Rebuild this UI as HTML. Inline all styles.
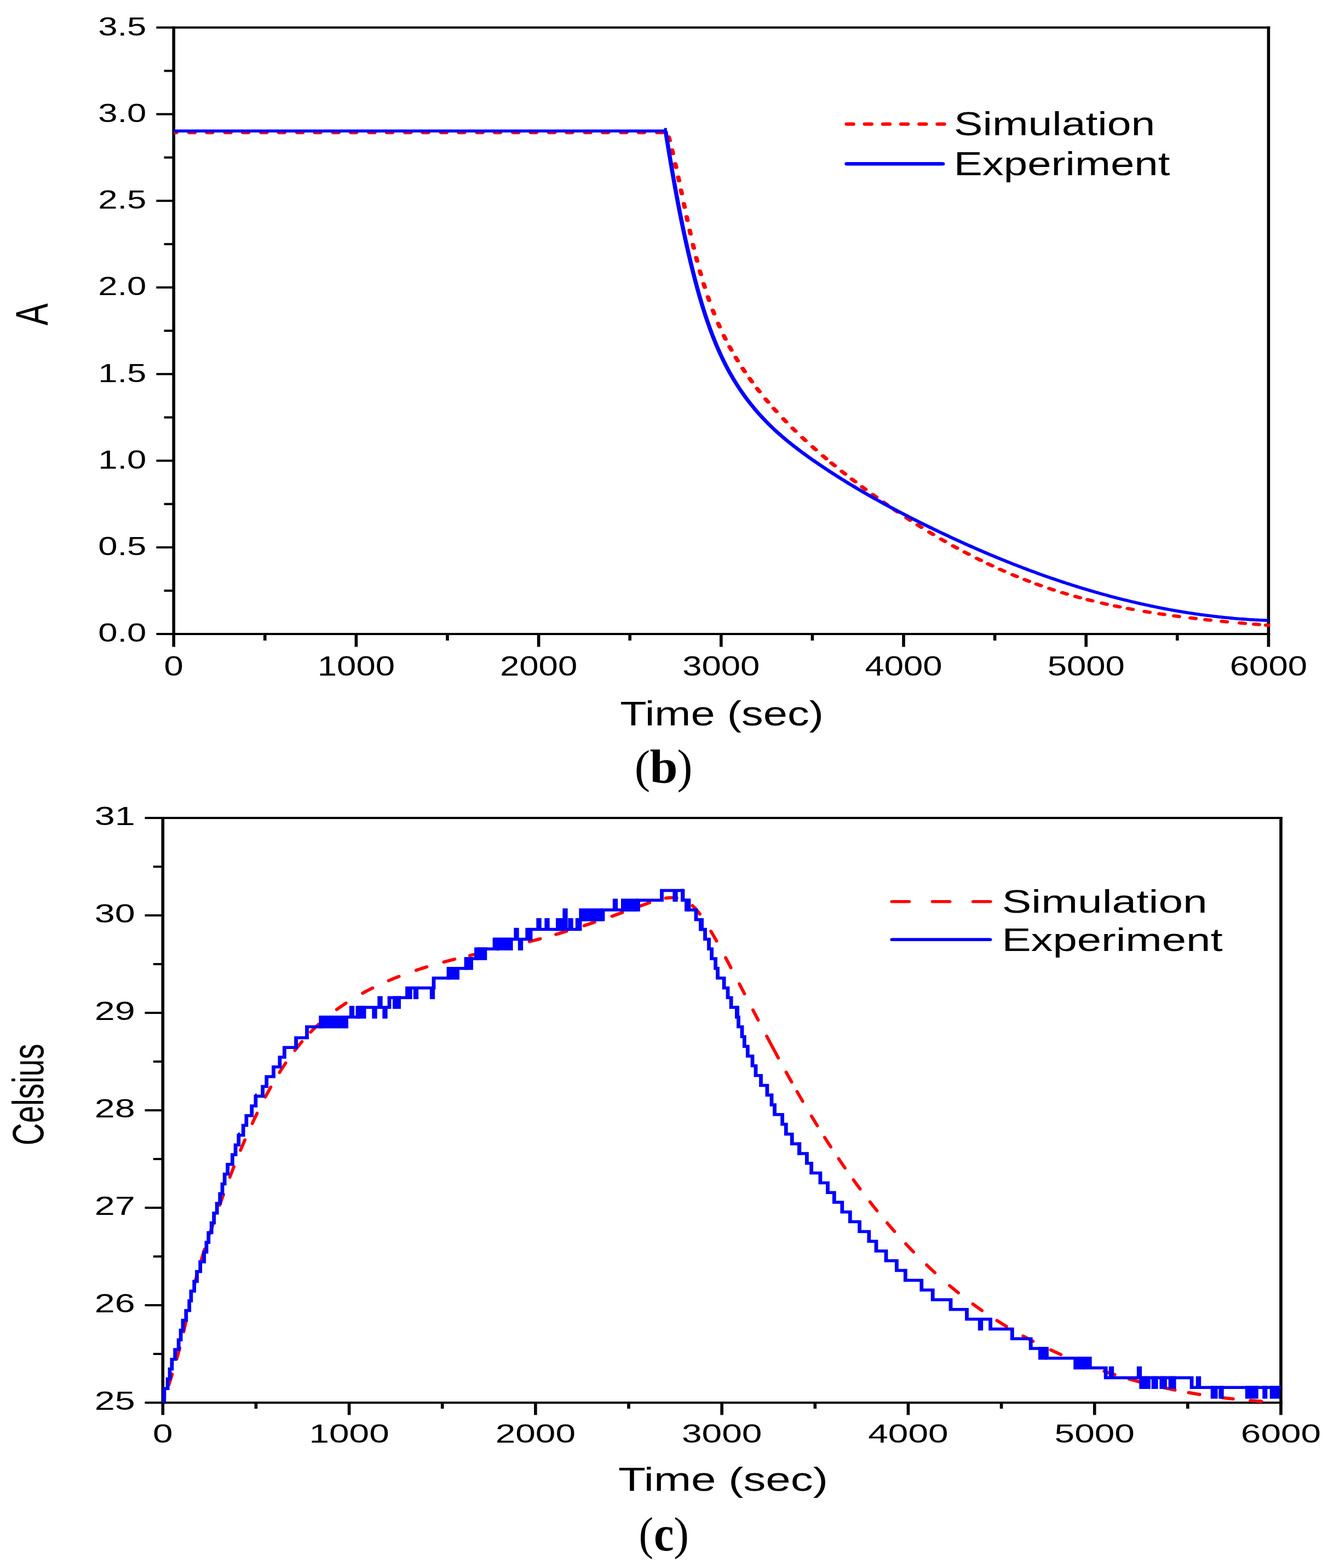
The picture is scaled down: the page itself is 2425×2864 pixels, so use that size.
<!DOCTYPE html>
<html><head><meta charset="utf-8"><title>Simulation vs Experiment</title>
<style>html,body{margin:0;padding:0;background:#fff;}svg{display:block;}</style>
</head><body>
<svg width="2425" height="2864" viewBox="0 0 2425 2864">
<rect x="0" y="0" width="2425" height="2864" fill="#fff"/>
<defs><clipPath id="cp1"><rect x="317.2" y="48.3" width="2002" height="1111.7"/></clipPath><clipPath id="cp2"><rect x="294.5" y="1492" width="2047.3" height="1072"/></clipPath></defs>
<rect x="314.4" y="48.3" width="2004.8" height="4" fill="#000"/>
<rect x="314.4" y="1156" width="2004.8" height="4" fill="#000"/>
<rect x="314.4" y="48.3" width="5.6" height="1111.7" fill="#000"/>
<rect x="2313.6" y="48.3" width="5.6" height="1111.7" fill="#000"/>
<rect x="285.4" y="1156" width="31.8" height="4" fill="#000"/>
<rect x="285.4" y="997.76" width="31.8" height="4" fill="#000"/>
<rect x="285.4" y="839.51" width="31.8" height="4" fill="#000"/>
<rect x="285.4" y="681.27" width="31.8" height="4" fill="#000"/>
<rect x="285.4" y="523.03" width="31.8" height="4" fill="#000"/>
<rect x="285.4" y="364.79" width="31.8" height="4" fill="#000"/>
<rect x="285.4" y="206.54" width="31.8" height="4" fill="#000"/>
<rect x="285.4" y="48.3" width="31.8" height="4" fill="#000"/>
<rect x="299.6" y="1076.88" width="17.6" height="4" fill="#000"/>
<rect x="299.6" y="918.64" width="17.6" height="4" fill="#000"/>
<rect x="299.6" y="760.39" width="17.6" height="4" fill="#000"/>
<rect x="299.6" y="602.15" width="17.6" height="4" fill="#000"/>
<rect x="299.6" y="443.91" width="17.6" height="4" fill="#000"/>
<rect x="299.6" y="285.66" width="17.6" height="4" fill="#000"/>
<rect x="299.6" y="127.42" width="17.6" height="4" fill="#000"/>
<rect x="314.4" y="1158" width="5.6" height="23.5" fill="#000"/>
<rect x="647.6" y="1158" width="5.6" height="23.5" fill="#000"/>
<rect x="980.8" y="1158" width="5.6" height="23.5" fill="#000"/>
<rect x="1314" y="1158" width="5.6" height="23.5" fill="#000"/>
<rect x="1647.2" y="1158" width="5.6" height="23.5" fill="#000"/>
<rect x="1980.4" y="1158" width="5.6" height="23.5" fill="#000"/>
<rect x="2313.6" y="1158" width="5.6" height="23.5" fill="#000"/>
<rect x="481" y="1158" width="5.6" height="12" fill="#000"/>
<rect x="814.2" y="1158" width="5.6" height="12" fill="#000"/>
<rect x="1147.4" y="1158" width="5.6" height="12" fill="#000"/>
<rect x="1480.6" y="1158" width="5.6" height="12" fill="#000"/>
<rect x="1813.8" y="1158" width="5.6" height="12" fill="#000"/>
<rect x="2147" y="1158" width="5.6" height="12" fill="#000"/>
<g clip-path="url(#cp1)"><g transform="scale(1.36 1)">
<path d="M233.24,242.2 L233.94,242.2 L234.64,242.2 L235.34,242.2 L236.04,242.2 L236.54,242.2 M254.44,242.2 L254.94,242.2 L255.64,242.2 L256.34,242.2 L257.04,242.2 L257.74,242.2 L258.44,242.2 L259.14,242.2 L259.84,242.2 L260.54,242.2 L261.04,242.2 M278.25,242.2 L278.75,242.2 L279.45,242.2 L280.15,242.2 L280.85,242.2 L281.55,242.2 L282.25,242.2 L282.95,242.2 L283.65,242.2 L284.35,242.2 L284.85,242.2 M302.76,242.2 L303.26,242.2 L303.96,242.2 L304.66,242.2 L305.36,242.2 L306.06,242.2 L306.76,242.2 L307.46,242.2 L308.16,242.2 L308.86,242.2 L309.36,242.2 M326.56,242.2 L327.06,242.2 L327.76,242.2 L328.46,242.2 L329.16,242.2 L329.86,242.2 L330.56,242.2 L331.26,242.2 L331.96,242.2 L332.66,242.2 L333.16,242.2 M351.07,242.2 L351.57,242.2 L352.27,242.2 L352.97,242.2 L353.67,242.2 L354.37,242.2 L355.07,242.2 L355.77,242.2 L356.47,242.2 L357.17,242.2 L357.67,242.2 M374.88,242.2 L375.38,242.2 L376.08,242.2 L376.78,242.2 L377.48,242.2 L378.18,242.2 L378.88,242.2 L379.58,242.2 L380.28,242.2 L380.98,242.2 L381.48,242.2 M399.38,242.2 L399.88,242.2 L400.58,242.2 L401.28,242.2 L401.98,242.2 L402.68,242.2 L403.38,242.2 L404.08,242.2 L404.79,242.2 L405.49,242.2 L405.98,242.2 M423.19,242.2 L423.69,242.2 L424.39,242.2 L425.09,242.2 L425.79,242.2 L426.49,242.2 L427.19,242.2 L427.89,242.2 L428.59,242.2 L429.29,242.2 L429.79,242.2 M447.7,242.2 L448.2,242.2 L448.9,242.2 L449.6,242.2 L450.3,242.2 L451,242.2 L451.7,242.2 L452.4,242.2 L453.1,242.2 L453.8,242.2 L454.3,242.2 M471.51,242.2 L472,242.2 L472.7,242.2 L473.41,242.2 L474.11,242.2 L474.81,242.2 L475.51,242.2 L476.21,242.2 L476.91,242.2 L477.61,242.2 L478.11,242.2 M496.01,242.2 L496.51,242.2 L497.21,242.2 L497.91,242.2 L498.61,242.2 L499.31,242.2 L500.01,242.2 L500.71,242.2 L501.41,242.2 L502.11,242.2 L502.61,242.2 M519.82,242.2 L520.32,242.2 L521.02,242.2 L521.72,242.2 L522.42,242.2 L523.12,242.2 L523.82,242.2 L524.52,242.2 L525.22,242.2 L525.92,242.2 L526.42,242.2 M544.33,242.2 L544.83,242.2 L545.53,242.2 L546.23,242.2 L546.93,242.2 L547.63,242.2 L548.33,242.2 L549.03,242.2 L549.73,242.2 L550.43,242.2 L550.93,242.2 M568.13,242.2 L568.63,242.2 L569.33,242.2 L570.03,242.2 L570.73,242.2 L571.43,242.2 L572.13,242.2 L572.83,242.2 L573.53,242.2 L574.23,242.2 L574.73,242.2 M592.64,242.2 L593.14,242.2 L593.84,242.2 L594.54,242.2 L595.24,242.2 L595.94,242.2 L596.64,242.2 L597.34,242.2 L598.04,242.2 L598.74,242.2 L599.24,242.2 M616.45,242.2 L616.95,242.2 L617.65,242.2 L618.35,242.2 L619.05,242.2 L619.75,242.2 L620.45,242.2 L621.15,242.2 L621.85,242.2 L622.55,242.2 L623.05,242.2 M640.95,242.2 L641.45,242.2 L642.15,242.2 L642.85,242.2 L643.55,242.2 L644.25,242.2 L644.96,242.2 L645.66,242.2 L646.36,242.2 L647.06,242.2 L647.55,242.2 M664.76,242.2 L665.26,242.2 L665.96,242.2 L666.66,242.2 L667.36,242.2 L668.06,242.2 L668.76,242.2 L669.46,242.2 L670.16,242.2 L670.86,242.2 L671.36,242.2 M689.27,242.2 L689.77,242.2 L690.47,242.2 L691.17,242.2 L691.87,242.2 L692.57,242.2 L693.27,242.2 L693.97,242.2 L694.67,242.2 L695.37,242.2 L695.87,242.2 M713.08,242.2 L713.57,242.2 L714.28,242.2 L714.98,242.2 L715.68,242.2 L716.38,242.2 L717.08,242.2 L717.78,242.2 L718.48,242.2 L719.18,242.2 L719.68,242.2 M737.58,242.2 L738.08,242.2 L738.78,242.2 L739.48,242.2 L740.18,242.2 L740.88,242.2 L741.58,242.2 L742.28,242.2 L742.98,242.2 L743.68,242.2 L744.18,242.2 M761.39,242.2 L761.89,242.2 L762.59,242.2 L763.29,242.2 L763.99,242.2 L764.69,242.2 L765.39,242.2 L766.09,242.2 L766.79,242.2 L767.49,242.2 L767.99,242.2 M785.9,242.2 L786.4,242.2 L787.1,242.2 L787.8,242.2 L788.5,242.2 L789.2,242.2 L789.9,242.2 L790.6,242.2 L791.3,242.2 L792,242.2 L792.5,242.2 M809.7,242.2 L810.2,242.2 L810.9,242.2 L811.6,242.2 L812.3,242.2 L813,242.2 L813.7,242.2 L814.4,242.2 L815.1,242.2 L815.8,242.2 L816.3,242.2 M834.21,242.2 L834.71,242.2 L835.41,242.2 L836.11,242.2 L836.81,242.2 L837.51,242.2 L838.21,242.2 L838.91,242.2 L839.61,242.2 L840.31,242.2 L840.81,242.2 M858.02,242.2 L858.52,242.2 L859.22,242.2 L859.92,242.2 L860.62,242.2 L861.32,242.2 L862.02,242.2 L862.72,242.2 L863.42,242.2 L864.12,242.2 L864.62,242.2 M882.53,242.2 L883.02,242.2 L883.72,242.2 L884.42,242.2 L885.12,242.2 L885.83,242.2 L886.53,242.2 L887.23,242.2 L887.93,242.2 L888.63,242.2 L889.13,242.2 M897.92,250.24 L898,250.65 L898.19,251.6 L898.37,252.54 L898.55,253.48 L898.73,254.43 L898.91,255.37 L899.09,256.32 L899.17,256.73 M902.36,274.03 L902.43,274.41 L902.6,275.37 L902.77,276.32 L902.94,277.28 L903.11,278.24 L903.28,279.2 L903.45,280.16 L903.51,280.53 M906.7,299.15 L906.75,299.49 L906.92,300.46 L907.08,301.43 L907.24,302.4 L907.4,303.37 L907.56,304.35 L907.72,305.32 L907.78,305.66 M910.67,323.58 L910.72,323.89 L910.88,324.88 L911.04,325.86 L911.19,326.84 L911.35,327.82 L911.5,328.8 L911.66,329.79 L911.71,330.1 M914.39,347.24 L914.44,347.54 L914.59,348.52 L914.75,349.51 L914.9,350.5 L915.05,351.49 L915.21,352.48 L915.36,353.47 L915.41,353.76 M918.24,372.03 L918.29,372.31 L918.44,373.31 L918.6,374.3 L918.75,375.3 L918.91,376.29 L919.06,377.28 L919.22,378.28 L919.26,378.56 M921.99,395.92 L922.04,396.19 L922.19,397.19 L922.35,398.18 L922.51,399.18 L922.67,400.17 L922.83,401.17 L922.99,402.16 L923.03,402.44 M926.03,420.82 L926.07,421.09 L926.24,422.08 L926.4,423.08 L926.57,424.07 L926.74,425.07 L926.9,426.06 L927.07,427.06 L927.12,427.33 M930.45,446.66 L930.5,446.94 L930.68,447.93 L930.85,448.92 L931.03,449.91 L931.21,450.9 L931.38,451.9 L931.56,452.89 L931.61,453.16 M934.81,470.41 L934.86,470.69 L935.05,471.68 L935.24,472.66 L935.43,473.65 L935.62,474.64 L935.81,475.62 L936,476.61 L936.05,476.89 M939.68,494.96 L939.75,495.25 L939.95,496.23 L940.15,497.21 L940.36,498.19 L940.57,499.16 L940.77,500.14 L940.98,501.11 L941.04,501.41 M944.75,518.27 L944.83,518.59 L945.05,519.56 L945.27,520.52 L945.49,521.49 L945.72,522.45 L945.94,523.42 L946.16,524.38 L946.24,524.7 M950.51,542.24 L950.59,542.58 L950.83,543.53 L951.08,544.48 L951.32,545.43 L951.56,546.38 L951.81,547.33 L952.05,548.28 L952.15,548.63 M957.06,566.73 L957.17,567.1 L957.43,568.03 L957.7,568.97 L957.97,569.9 L958.24,570.83 L958.51,571.76 L958.78,572.69 L958.89,573.07 M964.28,590.7 L964.41,591.1 L964.7,592.02 L965,592.93 L965.29,593.84 L965.59,594.75 L965.88,595.65 L966.18,596.56 L966.32,596.97 M971.91,613.18 L972.07,613.62 L972.39,614.51 L972.71,615.39 L973.03,616.28 L973.36,617.17 L973.69,618.05 L974.01,618.93 L974.18,619.38 M979.58,633.32 L979.77,633.79 L980.11,634.65 L980.47,635.52 L980.82,636.38 L981.17,637.24 L981.52,638.1 L981.88,638.96 L982.07,639.43 M987.86,652.94 L988.08,653.43 L988.46,654.27 L988.83,655.11 L989.21,655.95 L989.59,656.79 L989.97,657.63 L990.35,658.47 L990.57,658.96 M997.13,672.88 L997.38,673.38 L997.78,674.2 L998.18,675.02 L998.58,675.84 L998.99,676.66 L999.39,677.47 L999.8,678.29 L1000.05,678.79 M1006.58,691.48 L1006.85,692 L1007.28,692.8 L1007.7,693.6 L1008.13,694.4 L1008.56,695.19 L1008.98,695.99 L1009.41,696.78 L1009.69,697.3 M1016.55,709.62 L1016.85,710.15 L1017.29,710.93 L1017.74,711.71 L1018.19,712.49 L1018.64,713.26 L1019.09,714.04 L1019.54,714.81 L1019.85,715.34 M1027.94,728.83 L1028.26,729.36 L1028.73,730.12 L1029.2,730.88 L1029.67,731.63 L1030.14,732.39 L1030.61,733.14 L1031.09,733.9 L1031.42,734.43 M1038.89,746.04 L1039.24,746.58 L1039.73,747.32 L1040.22,748.06 L1040.71,748.8 L1041.2,749.54 L1041.69,750.27 L1042.18,751.01 L1042.54,751.54 M1051.78,765.01 L1052.16,765.55 L1052.67,766.26 L1053.17,766.98 L1053.68,767.7 L1054.19,768.42 L1054.7,769.13 L1055.21,769.85 L1055.6,770.39 M1064.12,782.06 L1064.52,782.6 L1065.04,783.3 L1065.57,784 L1066.09,784.7 L1066.62,785.4 L1067.14,786.1 L1067.67,786.8 L1068.08,787.33 M1077.38,799.38 L1077.8,799.92 L1078.34,800.6 L1078.88,801.29 L1079.43,801.97 L1079.97,802.65 L1080.51,803.33 L1081.05,804.01 L1081.48,804.55 M1091.02,816.28 L1091.47,816.82 L1092.02,817.48 L1092.57,818.15 L1093.13,818.82 L1093.68,819.48 L1094.24,820.15 L1094.8,820.81 L1095.25,821.35 M1105,832.77 L1105.46,833.31 L1106.03,833.96 L1106.6,834.61 L1107.16,835.26 L1107.73,835.91 L1108.3,836.56 L1108.87,837.21 L1109.34,837.75 M1116.39,845.69 L1116.87,846.23 L1117.45,846.87 L1118.03,847.51 L1118.6,848.15 L1119.18,848.78 L1119.76,849.42 L1120.33,850.06 L1120.82,850.59 M1130.29,860.89 L1130.79,861.43 L1131.37,862.05 L1131.96,862.68 L1132.54,863.3 L1133.13,863.93 L1133.72,864.55 L1134.3,865.18 L1134.8,865.71 M1143.8,875.16 L1144.32,875.7 L1144.91,876.31 L1145.5,876.92 L1146.1,877.54 L1146.69,878.15 L1147.28,878.76 L1147.87,879.37 L1148.39,879.91 M1157.47,889.16 L1158,889.69 L1158.6,890.3 L1159.2,890.9 L1159.8,891.5 L1160.4,892.1 L1161,892.7 L1161.6,893.3 L1162.13,893.84 M1171.88,903.49 L1172.42,904.03 L1173.03,904.62 L1173.63,905.21 L1174.23,905.8 L1174.84,906.39 L1175.44,906.98 L1176.05,907.57 L1176.6,908.1 M1186.41,917.53 L1186.97,918.07 L1187.58,918.65 L1188.19,919.23 L1188.8,919.8 L1189.41,920.38 L1190.02,920.96 L1190.63,921.53 L1191.2,922.07 M1200.46,930.7 L1201.04,931.24 L1201.66,931.81 L1202.27,932.37 L1202.89,932.94 L1203.5,933.5 L1204.12,934.06 L1204.74,934.63 L1205.32,935.16 M1217.12,945.78 L1217.72,946.32 L1218.34,946.87 L1218.96,947.42 L1219.59,947.97 L1220.21,948.51 L1220.83,949.06 L1221.45,949.61 L1222.06,950.14 M1232.06,958.81 L1232.07,958.81 L1232.69,959.35 L1233.32,959.88 L1233.95,960.42 L1234.57,960.95 L1235.2,961.48 L1235.83,962.02 L1236.46,962.55 L1237.09,963.08 L1237.09,963.08 M1247.78,971.99 L1247.8,972.01 L1248.44,972.53 L1249.07,973.05 L1249.7,973.57 L1250.34,974.08 L1250.97,974.6 L1251.6,975.12 L1252.24,975.63 L1252.87,976.15 L1252.9,976.17 M1263.65,984.76 L1263.7,984.79 L1264.33,985.29 L1264.97,985.79 L1265.61,986.29 L1266.25,986.79 L1266.89,987.29 L1267.53,987.79 L1268.17,988.29 L1268.81,988.79 L1268.86,988.82 M1279.68,997.08 L1279.74,997.12 L1280.39,997.61 L1281.03,998.09 L1281.68,998.57 L1282.32,999.06 L1282.97,999.54 L1283.62,1000.02 L1284.26,1000.5 L1284.91,1000.97 L1284.97,1001.02 M1295.22,1008.47 L1295.3,1008.53 L1295.95,1009 L1296.6,1009.46 L1297.25,1009.92 L1297.9,1010.39 L1298.55,1010.85 L1299.21,1011.31 L1299.86,1011.77 L1300.51,1012.23 L1300.6,1012.29 M1311.55,1019.86 L1311.65,1019.93 L1312.31,1020.38 L1312.97,1020.82 L1313.63,1021.27 L1314.29,1021.71 L1314.94,1022.15 L1315.6,1022.6 L1316.26,1023.04 L1316.92,1023.48 L1317.03,1023.55 M1326.72,1029.9 L1326.85,1029.98 L1327.51,1030.4 L1328.17,1030.83 L1328.84,1031.25 L1329.5,1031.68 L1330.17,1032.1 L1330.83,1032.52 L1331.5,1032.95 L1332.16,1033.37 L1332.29,1033.45 M1342.7,1039.89 L1342.85,1039.98 L1343.52,1040.39 L1344.19,1040.79 L1344.86,1041.2 L1345.53,1041.6 L1346.2,1042 L1346.87,1042.4 L1347.54,1042.8 L1348.21,1043.2 L1348.36,1043.29 M1359.51,1049.77 L1359.68,1049.86 L1360.35,1050.25 L1361.03,1050.63 L1361.71,1051.01 L1362.38,1051.39 L1363.06,1051.77 L1363.74,1052.15 L1364.42,1052.53 L1365.1,1052.9 L1365.27,1053 M1375.8,1058.71 L1375.99,1058.81 L1376.67,1059.17 L1377.36,1059.53 L1378.04,1059.89 L1378.73,1060.25 L1379.41,1060.61 L1380.09,1060.97 L1380.78,1061.32 L1381.46,1061.67 L1381.65,1061.77 M1391.57,1066.78 L1391.77,1066.88 L1392.46,1067.22 L1393.15,1067.55 L1393.84,1067.89 L1394.53,1068.23 L1395.22,1068.56 L1395.91,1068.9 L1396.6,1069.23 L1397.3,1069.56 L1397.5,1069.66 M1408.87,1074.95 L1409.09,1075.05 L1409.79,1075.37 L1410.48,1075.68 L1411.18,1075.99 L1411.88,1076.3 L1412.58,1076.61 L1413.27,1076.92 L1413.97,1077.23 L1414.67,1077.54 L1414.9,1077.64 M1426.34,1082.5 L1426.58,1082.6 L1427.28,1082.89 L1427.99,1083.18 L1428.69,1083.47 L1429.4,1083.75 L1430.1,1084.04 L1430.8,1084.32 L1431.51,1084.61 L1432.21,1084.89 L1432.46,1084.99 M1443.98,1089.45 L1444.23,1089.54 L1444.94,1089.81 L1445.65,1090.07 L1446.36,1090.34 L1447.07,1090.6 L1447.78,1090.86 L1448.49,1091.12 L1449.2,1091.38 L1449.91,1091.64 L1450.17,1091.73 M1460.34,1095.33 L1460.6,1095.42 L1461.31,1095.66 L1462.03,1095.91 L1462.74,1096.15 L1463.46,1096.39 L1464.17,1096.64 L1464.89,1096.87 L1465.6,1097.11 L1466.32,1097.35 L1466.59,1097.44 M1479.68,1101.65 L1479.96,1101.73 L1480.67,1101.95 L1481.39,1102.18 L1482.11,1102.4 L1482.83,1102.62 L1483.55,1102.83 L1484.28,1103.05 L1485,1103.27 L1485.72,1103.49 L1485.99,1103.57 M1496.99,1106.76 L1497.27,1106.84 L1498,1107.05 L1498.72,1107.25 L1499.44,1107.45 L1500.17,1107.65 L1500.89,1107.85 L1501.62,1108.05 L1502.34,1108.25 L1503.07,1108.45 L1503.35,1108.53 M1514.39,1111.45 L1514.68,1111.52 L1515.41,1111.71 L1516.14,1111.89 L1516.86,1112.07 L1517.59,1112.26 L1518.32,1112.44 L1519.05,1112.62 L1519.77,1112.8 L1520.5,1112.99 L1520.79,1113.06 M1536.99,1116.89 L1537.28,1116.96 L1538.01,1117.12 L1538.74,1117.29 L1539.48,1117.45 L1540.21,1117.62 L1540.94,1117.78 L1541.67,1117.94 L1542.4,1118.1 L1543.13,1118.26 L1543.43,1118.33 M1556.75,1121.13 L1557.05,1121.19 L1557.78,1121.34 L1558.52,1121.49 L1559.25,1121.64 L1559.98,1121.78 L1560.72,1121.93 L1561.45,1122.07 L1562.18,1122.22 L1562.92,1122.36 L1563.22,1122.42 M1576.57,1124.95 L1576.87,1125 L1577.61,1125.14 L1578.35,1125.27 L1579.08,1125.4 L1579.82,1125.53 L1580.55,1125.66 L1581.29,1125.8 L1582.02,1125.93 L1582.76,1126.06 L1583.06,1126.11 M1598.63,1128.74 L1598.95,1128.79 L1599.68,1128.91 L1600.42,1129.03 L1601.15,1129.14 L1601.89,1129.26 L1602.63,1129.38 L1603.36,1129.49 L1604.1,1129.61 L1604.84,1129.73 L1605.15,1129.78 M1618.51,1131.79 L1618.83,1131.84 L1619.56,1131.95 L1620.3,1132.06 L1621.04,1132.16 L1621.77,1132.27 L1622.51,1132.37 L1623.25,1132.48 L1623.98,1132.58 L1624.72,1132.69 L1625.04,1132.73 M1640.58,1134.85 L1640.91,1134.89 L1641.65,1134.99 L1642.39,1135.09 L1643.12,1135.18 L1643.86,1135.28 L1644.59,1135.37 L1645.33,1135.47 L1646.06,1135.56 L1646.8,1135.65 L1647.13,1135.7 M1664.83,1137.86 L1665.17,1137.9 L1665.91,1137.99 L1666.64,1138.08 L1667.37,1138.16 L1668.11,1138.25 L1668.84,1138.33 L1669.58,1138.42 L1670.31,1138.5 L1671.04,1138.59 L1671.39,1138.63 M1683.88,1140.03 L1684.23,1140.07 L1684.97,1140.15 L1685.7,1140.23 L1686.43,1140.31 L1687.16,1140.39 L1687.89,1140.47 L1688.63,1140.55 L1689.36,1140.63 L1690.09,1140.71 L1690.44,1140.74 M1699.95,1141.75 L1700.32,1141.79 L1701.05,1141.87 L1701.78,1141.94 L1702.51,1142.02 L1703.24,1142.09" fill="none" stroke="#ff0000" stroke-width="6" stroke-linecap="round"/>
<path d="M233.24,239.3 L892.28,239.3 L893.75,240.5 L894.1,243.45 L894.45,246.41 L894.81,249.36 L895.16,252.31 L895.52,255.27 L895.87,258.22 L896.23,261.17 L896.59,264.12 L896.94,267.08 L897.3,270.03 L897.66,272.98 L898.02,275.93 L898.38,278.88 L898.74,281.84 L899.11,284.79 L899.47,287.74 L899.84,290.69 L900.2,293.64 L900.57,296.59 L900.94,299.54 L901.31,302.49 L901.68,305.44 L902.05,308.39 L902.43,311.35 L902.8,314.3 L903.18,317.25 L903.56,320.2 L903.94,323.15 L904.32,326.1 L904.7,329.05 L905.09,332 L905.47,334.95 L905.86,337.9 L906.25,340.85 L906.64,343.79 L907.04,346.74 L907.43,349.69 L907.83,352.64 L908.23,355.59 L908.63,358.54 L909.04,361.49 L909.44,364.44 L909.85,367.39 L910.26,370.34 L910.67,373.29 L911.09,376.24 L911.51,379.19 L911.93,382.14 L912.35,385.08 L912.77,388.03 L913.2,390.98 L913.63,393.93 L914.06,396.88 L914.5,399.83 L914.94,402.78 L915.38,405.73 L915.82,408.68 L916.26,411.62 L916.71,414.57 L917.16,417.52 L917.62,420.47 L918.08,423.42 L918.54,426.37 L919,429.32 L919.47,432.27 L919.94,435.22 L920.41,438.16 L920.89,441.11 L921.36,444.06 L921.85,447.01 L922.33,449.96 L922.82,452.91 L923.32,455.86 L923.81,458.81 L924.31,461.76 L924.81,464.71 L925.32,467.66 L925.83,470.6 L926.35,473.55 L926.86,476.5 L927.39,479.45 L927.91,482.4 L928.44,485.35 L928.97,488.3 L929.51,491.25 L930.05,494.2 L930.6,497.15 L931.14,500.1 L931.7,503.05 L932.26,506 L932.82,508.95 L933.38,511.9 L933.95,514.85 L934.53,517.8 L935.11,520.75 L935.69,523.69 L936.28,526.64 L936.88,529.58 L937.48,532.53 L938.08,535.47 L938.69,538.41 L939.31,541.34 L939.93,544.28 L940.56,547.21 L941.2,550.14 L941.84,553.06 L942.48,555.99 L943.14,558.91 L943.8,561.82 L944.47,564.74 L945.14,567.65 L945.82,570.55 L946.51,573.45 L947.2,576.35 L947.9,579.24 L948.61,582.13 L949.33,585.01 L950.05,587.89 L950.79,590.77 L951.53,593.63 L952.28,596.5 L953.03,599.35 L953.8,602.2 L954.57,605.05 L955.35,607.89 L956.14,610.72 L956.94,613.54 L957.75,616.36 L958.57,619.18 L959.4,621.98 L960.23,624.78 L961.08,627.57 L961.93,630.35 L962.8,633.12 L963.67,635.89 L964.56,638.65 L965.45,641.4 L966.36,644.14 L967.27,646.87 L968.2,649.6 L969.13,652.31 L970.08,655.02 L971.04,657.71 L972.01,660.4 L972.99,663.07 L973.98,665.74 L974.98,668.4 L976,671.04 L977.02,673.68 L978.06,676.3 L979.11,678.92 L980.17,681.52 L981.24,684.11 L982.33,686.69 L983.43,689.26 L984.54,691.82 L985.66,694.36 L986.79,696.9 L987.94,699.42 L989.1,701.92 L990.28,704.42 L991.47,706.9 L992.67,709.37 L993.88,711.83 L995.1,714.28 L996.34,716.71 L997.59,719.13 L998.85,721.54 L1000.12,723.94 L1001.41,726.32 L1002.71,728.69 L1004.02,731.04 L1005.34,733.39 L1006.68,735.72 L1008.02,738.04 L1009.38,740.34 L1010.75,742.63 L1012.13,744.91 L1013.53,747.18 L1014.94,749.43 L1016.35,751.67 L1017.78,753.9 L1019.22,756.11 L1020.67,758.31 L1022.14,760.49 L1023.61,762.66 L1025.1,764.82 L1026.6,766.97 L1028.11,769.1 L1029.63,771.22 L1031.16,773.32 L1032.7,775.41 L1034.25,777.49 L1035.82,779.55 L1037.39,781.6 L1038.98,783.63 L1040.58,785.65 L1042.18,787.66 L1043.8,789.66 L1045.43,791.64 L1047.06,793.61 L1048.71,795.57 L1050.36,797.51 L1052.03,799.45 L1053.7,801.37 L1055.38,803.28 L1057.07,805.18 L1058.77,807.06 L1060.48,808.94 L1062.19,810.81 L1063.91,812.66 L1065.64,814.51 L1067.38,816.35 L1069.12,818.17 L1070.87,819.99 L1072.62,821.8 L1074.38,823.6 L1076.15,825.39 L1077.92,827.17 L1079.7,828.94 L1081.49,830.71 L1083.28,832.47 L1085.07,834.21 L1086.87,835.96 L1088.67,837.69 L1090.48,839.42 L1092.29,841.14 L1094.11,842.86 L1095.93,844.57 L1097.75,846.27 L1099.57,847.96 L1101.4,849.65 L1103.24,851.34 L1105.07,853.02 L1106.91,854.69 L1108.76,856.35 L1110.6,858.01 L1112.45,859.67 L1114.3,861.32 L1116.16,862.96 L1118.02,864.6 L1119.88,866.23 L1121.74,867.85 L1123.61,869.47 L1125.48,871.08 L1127.36,872.69 L1129.24,874.29 L1131.12,875.89 L1133,877.48 L1134.88,879.07 L1136.77,880.65 L1138.67,882.22 L1140.56,883.79 L1142.46,885.36 L1144.36,886.92 L1146.26,888.47 L1148.16,890.02 L1150.07,891.56 L1151.98,893.1 L1153.89,894.63 L1155.81,896.16 L1157.73,897.68 L1159.65,899.2 L1161.57,900.71 L1163.5,902.22 L1165.42,903.72 L1167.35,905.22 L1169.29,906.72 L1171.22,908.2 L1173.16,909.69 L1175.1,911.17 L1177.04,912.64 L1178.98,914.11 L1180.93,915.57 L1182.87,917.03 L1184.82,918.49 L1186.77,919.94 L1188.73,921.38 L1190.68,922.83 L1192.64,924.26 L1194.6,925.7 L1196.56,927.12 L1198.52,928.55 L1200.49,929.97 L1202.45,931.38 L1204.42,932.79 L1206.39,934.2 L1208.36,935.6 L1210.34,937 L1212.31,938.4 L1214.29,939.79 L1216.27,941.17 L1218.25,942.56 L1220.23,943.93 L1222.21,945.31 L1224.19,946.68 L1226.18,948.05 L1228.17,949.41 L1230.15,950.77 L1232.14,952.12 L1234.13,953.48 L1236.13,954.82 L1238.12,956.17 L1240.11,957.51 L1242.11,958.84 L1244.1,960.18 L1246.1,961.51 L1248.1,962.83 L1250.1,964.16 L1252.1,965.48 L1254.1,966.79 L1256.1,968.11 L1258.11,969.41 L1260.11,970.72 L1262.12,972.02 L1264.12,973.32 L1266.13,974.61 L1268.14,975.9 L1270.15,977.19 L1272.16,978.47 L1274.17,979.75 L1276.19,981.03 L1278.2,982.3 L1280.22,983.57 L1282.23,984.83 L1284.25,986.09 L1286.27,987.35 L1288.29,988.6 L1290.31,989.85 L1292.33,991.1 L1294.35,992.34 L1296.37,993.58 L1298.4,994.81 L1300.42,996.04 L1302.45,997.26 L1304.48,998.48 L1306.51,999.7 L1308.54,1000.91 L1310.57,1002.12 L1312.6,1003.33 L1314.63,1004.53 L1316.67,1005.73 L1318.7,1006.92 L1320.74,1008.11 L1322.78,1009.29 L1324.81,1010.47 L1326.85,1011.64 L1328.89,1012.82 L1330.94,1013.98 L1332.98,1015.15 L1335.02,1016.3 L1337.07,1017.46 L1339.11,1018.61 L1341.16,1019.75 L1343.21,1020.89 L1345.26,1022.03 L1347.31,1023.16 L1349.36,1024.29 L1351.41,1025.41 L1353.46,1026.53 L1355.52,1027.64 L1357.57,1028.75 L1359.63,1029.85 L1361.69,1030.95 L1363.75,1032.05 L1365.81,1033.14 L1367.87,1034.23 L1369.93,1035.31 L1371.99,1036.38 L1374.06,1037.46 L1376.12,1038.52 L1378.19,1039.58 L1380.25,1040.64 L1382.32,1041.69 L1384.39,1042.74 L1386.46,1043.79 L1388.54,1044.82 L1390.61,1045.86 L1392.68,1046.89 L1394.76,1047.91 L1396.83,1048.93 L1398.91,1049.94 L1400.99,1050.95 L1403.07,1051.95 L1405.15,1052.95 L1407.23,1053.94 L1409.31,1054.93 L1411.4,1055.92 L1413.48,1056.89 L1415.57,1057.87 L1417.66,1058.83 L1419.74,1059.8 L1421.83,1060.75 L1423.92,1061.71 L1426.02,1062.65 L1428.11,1063.59 L1430.2,1064.53 L1432.3,1065.46 L1434.39,1066.39 L1436.49,1067.31 L1438.59,1068.22 L1440.69,1069.13 L1442.79,1070.04 L1444.89,1070.94 L1446.99,1071.83 L1449.1,1072.72 L1451.2,1073.6 L1453.31,1074.48 L1455.42,1075.35 L1457.52,1076.21 L1459.63,1077.07 L1461.74,1077.93 L1463.86,1078.78 L1465.97,1079.62 L1468.08,1080.46 L1470.2,1081.29 L1472.31,1082.12 L1474.43,1082.94 L1476.55,1083.75 L1478.67,1084.56 L1480.79,1085.37 L1482.91,1086.16 L1485.04,1086.95 L1487.16,1087.74 L1489.29,1088.52 L1491.41,1089.3 L1493.54,1090.06 L1495.67,1090.83 L1497.8,1091.58 L1499.93,1092.33 L1502.06,1093.08 L1504.19,1093.82 L1506.33,1094.55 L1508.46,1095.28 L1510.6,1096 L1512.74,1096.71 L1514.88,1097.42 L1517.02,1098.12 L1519.16,1098.82 L1521.3,1099.51 L1523.45,1100.19 L1525.59,1100.87 L1527.74,1101.54 L1529.88,1102.21 L1532.03,1102.86 L1534.18,1103.52 L1536.33,1104.16 L1538.48,1104.8 L1540.64,1105.44 L1542.79,1106.06 L1544.95,1106.69 L1547.1,1107.3 L1549.26,1107.91 L1551.42,1108.51 L1553.58,1109.1 L1555.74,1109.69 L1557.9,1110.28 L1560.07,1110.85 L1562.23,1111.42 L1564.4,1111.98 L1566.56,1112.54 L1568.73,1113.09 L1570.9,1113.63 L1573.07,1114.17 L1575.24,1114.7 L1577.42,1115.22 L1579.59,1115.73 L1581.76,1116.24 L1583.94,1116.75 L1586.12,1117.24 L1588.3,1117.73 L1590.48,1118.21 L1592.66,1118.69 L1594.84,1119.16 L1597.02,1119.62 L1599.21,1120.07 L1601.39,1120.52 L1603.58,1120.96 L1605.77,1121.4 L1607.96,1121.82 L1610.15,1122.24 L1612.34,1122.65 L1614.53,1123.06 L1616.73,1123.46 L1618.92,1123.85 L1621.12,1124.24 L1623.32,1124.61 L1625.52,1124.98 L1627.72,1125.35 L1629.92,1125.7 L1632.12,1126.05 L1634.32,1126.39 L1636.53,1126.73 L1638.74,1127.05 L1640.94,1127.37 L1643.15,1127.69 L1645.36,1127.99 L1647.57,1128.29 L1649.78,1128.58 L1652,1128.86 L1654.21,1129.14 L1656.43,1129.41 L1658.64,1129.67 L1660.86,1129.92 L1663.08,1130.17 L1665.3,1130.41 L1667.52,1130.64 L1669.75,1130.86 L1671.97,1131.08 L1674.2,1131.28 L1676.42,1131.49 L1678.65,1131.68 L1680.88,1131.86 L1683.11,1132.04 L1685.34,1132.21 L1687.58,1132.37 L1689.81,1132.53 L1692.04,1132.67 L1694.28,1132.81 L1696.52,1132.94 L1698.76,1133.07 L1701,1133.18 L1703.24,1133.29" fill="none" stroke="#0000ff" stroke-width="5.6" stroke-linejoin="round"/>
<rect x="891.62" y="233.8" width="3.82" height="6" fill="#0000ff"/>
</g></g><g transform="scale(1.36 1)">
<path d="M1137.21,226.7 L1267.65,226.7" fill="none" stroke="#ff0000" stroke-width="6.2" stroke-linecap="round" stroke-dasharray="8.1 16.3"/>
<path d="M1137.21,299.3 L1265.44,299.3" fill="none" stroke="#0000ff" stroke-width="6.4" stroke-linecap="round"/>
</g>
<text transform="translate(267.4 1172.4) scale(1.3 1)" font-family="'Liberation Sans', Arial, sans-serif" font-size="48.8" text-anchor="end">0.0</text>
<text transform="translate(267.4 1014.16) scale(1.3 1)" font-family="'Liberation Sans', Arial, sans-serif" font-size="48.8" text-anchor="end">0.5</text>
<text transform="translate(267.4 855.91) scale(1.3 1)" font-family="'Liberation Sans', Arial, sans-serif" font-size="48.8" text-anchor="end">1.0</text>
<text transform="translate(267.4 697.67) scale(1.3 1)" font-family="'Liberation Sans', Arial, sans-serif" font-size="48.8" text-anchor="end">1.5</text>
<text transform="translate(267.4 539.43) scale(1.3 1)" font-family="'Liberation Sans', Arial, sans-serif" font-size="48.8" text-anchor="end">2.0</text>
<text transform="translate(267.4 381.19) scale(1.3 1)" font-family="'Liberation Sans', Arial, sans-serif" font-size="48.8" text-anchor="end">2.5</text>
<text transform="translate(267.4 222.94) scale(1.3 1)" font-family="'Liberation Sans', Arial, sans-serif" font-size="48.8" text-anchor="end">3.0</text>
<text transform="translate(267.4 64.7) scale(1.3 1)" font-family="'Liberation Sans', Arial, sans-serif" font-size="48.8" text-anchor="end">3.5</text>
<text transform="translate(317.2 1233.6) scale(1.29 1)" font-family="'Liberation Sans', Arial, sans-serif" font-size="49.2" text-anchor="middle">0</text>
<text transform="translate(650.4 1233.6) scale(1.29 1)" font-family="'Liberation Sans', Arial, sans-serif" font-size="49.2" text-anchor="middle">1000</text>
<text transform="translate(983.6 1233.6) scale(1.29 1)" font-family="'Liberation Sans', Arial, sans-serif" font-size="49.2" text-anchor="middle">2000</text>
<text transform="translate(1316.8 1233.6) scale(1.29 1)" font-family="'Liberation Sans', Arial, sans-serif" font-size="49.2" text-anchor="middle">3000</text>
<text transform="translate(1650 1233.6) scale(1.29 1)" font-family="'Liberation Sans', Arial, sans-serif" font-size="49.2" text-anchor="middle">4000</text>
<text transform="translate(1983.2 1233.6) scale(1.29 1)" font-family="'Liberation Sans', Arial, sans-serif" font-size="49.2" text-anchor="middle">5000</text>
<text transform="translate(2316.4 1233.6) scale(1.29 1)" font-family="'Liberation Sans', Arial, sans-serif" font-size="49.2" text-anchor="middle">6000</text>
<text transform="translate(1132.21 1325.4) scale(1.26 1)" font-family="'Liberation Sans', Arial, sans-serif" font-size="63" text-anchor="start">Time (sec)</text>
<text transform="translate(86.7 594.3) rotate(-90) scale(1 1.39)" font-family="'Liberation Sans', Arial, sans-serif" font-size="60">A</text>
<text transform="translate(1741.96 247.1) scale(1.29 1)" font-family="'Liberation Sans', Arial, sans-serif" font-size="61" text-anchor="start">Simulation</text>
<text transform="translate(1741.64 319.8) scale(1.28 1)" font-family="'Liberation Sans', Arial, sans-serif" font-size="61" text-anchor="start">Experiment</text>
<text transform="translate(1158.67 1429.12) scale(1 1)" font-family="'Liberation Serif', 'Times New Roman', serif" font-size="85.49" text-anchor="start">(</text>
<text transform="translate(1186.62 1428.73) scale(1.06 1)" font-family="'Liberation Serif', 'Times New Roman', serif" font-size="86.81" text-anchor="start" font-weight="bold">b</text>
<text transform="translate(1236.5 1429.35) scale(0.97 1)" font-family="'Liberation Serif', 'Times New Roman', serif" font-size="86.44" text-anchor="start">)</text>
<rect x="294.5" y="1492" width="2047.3" height="4" fill="#000"/>
<rect x="294.5" y="2560" width="2047.3" height="4" fill="#000"/>
<rect x="294.5" y="1492" width="5.6" height="1072" fill="#000"/>
<rect x="2336.2" y="1492" width="5.6" height="1072" fill="#000"/>
<rect x="264.5" y="2560" width="32.8" height="4" fill="#000"/>
<rect x="264.5" y="2382" width="32.8" height="4" fill="#000"/>
<rect x="264.5" y="2204" width="32.8" height="4" fill="#000"/>
<rect x="264.5" y="2026" width="32.8" height="4" fill="#000"/>
<rect x="264.5" y="1848" width="32.8" height="4" fill="#000"/>
<rect x="264.5" y="1670" width="32.8" height="4" fill="#000"/>
<rect x="264.5" y="1492" width="32.8" height="4" fill="#000"/>
<rect x="279.8" y="2471" width="17.5" height="4" fill="#000"/>
<rect x="279.8" y="2293" width="17.5" height="4" fill="#000"/>
<rect x="279.8" y="2115" width="17.5" height="4" fill="#000"/>
<rect x="279.8" y="1937" width="17.5" height="4" fill="#000"/>
<rect x="279.8" y="1759" width="17.5" height="4" fill="#000"/>
<rect x="279.8" y="1581" width="17.5" height="4" fill="#000"/>
<rect x="294.5" y="2562" width="5.6" height="22.5" fill="#000"/>
<rect x="634.78" y="2562" width="5.6" height="22.5" fill="#000"/>
<rect x="975.07" y="2562" width="5.6" height="22.5" fill="#000"/>
<rect x="1315.35" y="2562" width="5.6" height="22.5" fill="#000"/>
<rect x="1655.63" y="2562" width="5.6" height="22.5" fill="#000"/>
<rect x="1995.92" y="2562" width="5.6" height="22.5" fill="#000"/>
<rect x="2336.2" y="2562" width="5.6" height="22.5" fill="#000"/>
<rect x="464.64" y="2562" width="5.6" height="11" fill="#000"/>
<rect x="804.93" y="2562" width="5.6" height="11" fill="#000"/>
<rect x="1145.21" y="2562" width="5.6" height="11" fill="#000"/>
<rect x="1485.49" y="2562" width="5.6" height="11" fill="#000"/>
<rect x="1825.78" y="2562" width="5.6" height="11" fill="#000"/>
<rect x="2166.06" y="2562" width="5.6" height="11" fill="#000"/>
<g clip-path="url(#cp2)">
<path d="M308.27,2529.5 L308.41,2529.07 L308.64,2528.35 L308.88,2527.64 L309.11,2526.92 L309.34,2526.2 L309.57,2525.49 L309.8,2524.77 L310.04,2524.05 L310.27,2523.34 L310.5,2522.62 L310.73,2521.9 L310.96,2521.18 L311.18,2520.47 L311.41,2519.75 L311.64,2519.03 L311.87,2518.31 L312.1,2517.59 L312.32,2516.87 L312.55,2516.16 L312.78,2515.44 L313,2514.72 L313.23,2514 L313.45,2513.28 L313.68,2512.56 L313.9,2511.84 L314.12,2511.12 L314.35,2510.4 L314.48,2509.97 M322.79,2481.89 L322.91,2481.45 L323.11,2480.73 L323.31,2480 L323.52,2479.28 L323.72,2478.55 L323.92,2477.82 L324.12,2477.1 L324.32,2476.37 L324.52,2475.64 L324.72,2474.92 L324.92,2474.19 L325.12,2473.46 L325.32,2472.73 L325.52,2472.01 L325.71,2471.28 L325.91,2470.55 L326.1,2469.83 L326.3,2469.1 L326.49,2468.37 L326.69,2467.64 L326.88,2466.92 L327.07,2466.19 L327.27,2465.46 L327.46,2464.73 L327.65,2464 L327.84,2463.28 L328.03,2462.55 L328.14,2462.1 M335.37,2432.45 L335.49,2431.94 L335.66,2431.21 L335.82,2430.48 L335.99,2429.75 L336.16,2429.02 L336.32,2428.29 L336.49,2427.56 L336.65,2426.83 L336.82,2426.1 L336.98,2425.37 L337.15,2424.64 L337.31,2423.92 L337.48,2423.19 L337.64,2422.46 L337.8,2421.73 L337.97,2421 L338.13,2420.27 L338.29,2419.54 L338.46,2418.81 L338.62,2418.08 L338.78,2417.35 L338.94,2416.62 L339.1,2415.89 L339.27,2415.16 L339.43,2414.43 L339.59,2413.7 L339.75,2412.97 L339.87,2412.45 M354.61,2347.8 L354.72,2347.34 L354.9,2346.61 L355.09,2345.88 L355.27,2345.15 L355.46,2344.42 L355.64,2343.69 L355.83,2342.97 L356.02,2342.24 L356.21,2341.51 L356.39,2340.78 L356.58,2340.05 L356.77,2339.33 L356.97,2338.6 L357.16,2337.87 L357.35,2337.14 L357.54,2336.41 L357.74,2335.69 L357.93,2334.96 L358.12,2334.23 L358.32,2333.5 L358.52,2332.78 L358.71,2332.05 L358.91,2331.32 L359.11,2330.59 L359.31,2329.87 L359.51,2329.14 L359.71,2328.41 L359.83,2327.98 M367.66,2301.2 L367.77,2300.82 L367.99,2300.1 L368.22,2299.37 L368.44,2298.65 L368.66,2297.92 L368.89,2297.2 L369.11,2296.48 L369.34,2295.75 L369.56,2295.03 L369.79,2294.3 L370.02,2293.58 L370.24,2292.86 L370.47,2292.13 L370.7,2291.41 L370.93,2290.69 L371.15,2289.96 L371.38,2289.24 L371.61,2288.52 L371.84,2287.8 L372.07,2287.07 L372.3,2286.35 L372.53,2285.63 L372.76,2284.9 L372.99,2284.18 L373.23,2283.46 L373.46,2282.74 L373.69,2282.02 L373.81,2281.64 M383.06,2253.65 L383.2,2253.24 L383.44,2252.53 L383.68,2251.81 L383.92,2251.09 L384.17,2250.38 L384.41,2249.66 L384.65,2248.95 L384.89,2248.23 L385.14,2247.52 L385.38,2246.8 L385.62,2246.09 L385.86,2245.37 L386.1,2244.66 L386.35,2243.94 L386.59,2243.23 L386.83,2242.51 L387.08,2241.8 L387.32,2241.09 L387.56,2240.37 L387.8,2239.66 L388.05,2238.95 L388.29,2238.23 L388.53,2237.52 L388.78,2236.81 L389.02,2236.1 L389.26,2235.38 L389.51,2234.67 L389.65,2234.24 M401.12,2201.17 L401.3,2200.66 L401.55,2199.96 L401.79,2199.26 L402.04,2198.55 L402.29,2197.85 L402.54,2197.14 L402.79,2196.44 L403.04,2195.73 L403.29,2195.03 L403.54,2194.33 L403.79,2193.62 L404.04,2192.92 L404.29,2192.22 L404.54,2191.51 L404.79,2190.81 L405.04,2190.11 L405.29,2189.4 L405.54,2188.7 L405.8,2188 L406.05,2187.3 L406.3,2186.59 L406.55,2185.89 L406.8,2185.19 L407.06,2184.49 L407.31,2183.79 L407.56,2183.09 L407.81,2182.38 L408,2181.86 M419.73,2150.1 L419.94,2149.56 L420.2,2148.86 L420.46,2148.17 L420.73,2147.47 L420.99,2146.78 L421.26,2146.08 L421.52,2145.39 L421.79,2144.69 L422.05,2144 L422.32,2143.3 L422.59,2142.61 L422.85,2141.92 L423.12,2141.22 L423.39,2140.53 L423.65,2139.83 L423.92,2139.14 L424.19,2138.44 L424.46,2137.75 L424.73,2137.06 L424.99,2136.36 L425.26,2135.67 L425.53,2134.98 L425.8,2134.28 L426.07,2133.59 L426.34,2132.9 L426.61,2132.2 L426.88,2131.51 L427.1,2130.97 M439.21,2100.93 L439.42,2100.42 L439.7,2099.74 L439.99,2099.05 L440.28,2098.36 L440.57,2097.67 L440.85,2096.98 L441.14,2096.29 L441.43,2095.61 L441.72,2094.92 L442.01,2094.23 L442.3,2093.54 L442.59,2092.85 L442.88,2092.16 L443.17,2091.48 L443.47,2090.79 L443.76,2090.1 L444.05,2089.41 L444.34,2088.73 L444.64,2088.04 L444.93,2087.35 L445.22,2086.66 L445.52,2085.98 L445.81,2085.29 L446.11,2084.6 L446.41,2083.91 L446.7,2083.23 L447,2082.54 L447.21,2082.05 M460.63,2052.08 L460.81,2051.69 L461.13,2051.01 L461.45,2050.33 L461.77,2049.64 L462.09,2048.96 L462.41,2048.27 L462.73,2047.59 L463.05,2046.91 L463.37,2046.22 L463.69,2045.54 L464.01,2044.85 L464.34,2044.17 L464.66,2043.49 L464.99,2042.8 L465.31,2042.12 L465.63,2041.44 L465.96,2040.75 L466.29,2040.07 L466.61,2039.39 L466.94,2038.7 L467.27,2038.02 L467.6,2037.34 L467.92,2036.65 L468.25,2035.97 L468.58,2035.29 L468.91,2034.6 L469.24,2033.92 L469.42,2033.56 M484.57,2003.67 L484.73,2003.38 L485.08,2002.71 L485.44,2002.03 L485.8,2001.36 L486.16,2000.69 L486.52,2000.02 L486.88,1999.34 L487.25,1998.67 L487.61,1998 L487.97,1997.33 L488.34,1996.66 L488.7,1995.99 L489.07,1995.32 L489.43,1994.65 L489.8,1993.98 L490.16,1993.31 L490.53,1992.65 L490.9,1991.98 L491.27,1991.31 L491.64,1990.64 L492.01,1989.98 L492.38,1989.31 L492.75,1988.64 L493.12,1987.98 L493.5,1987.31 L493.87,1986.65 L494.25,1985.98 L494.41,1985.69 M510.43,1958.83 L510.63,1958.51 L511.04,1957.87 L511.44,1957.23 L511.85,1956.59 L512.26,1955.95 L512.67,1955.31 L513.08,1954.67 L513.49,1954.03 L513.9,1953.39 L514.31,1952.75 L514.73,1952.12 L515.14,1951.48 L515.56,1950.85 L515.97,1950.21 L516.39,1949.58 L516.8,1948.94 L517.22,1948.31 L517.64,1947.68 L518.06,1947.05 L518.48,1946.41 L518.9,1945.78 L519.33,1945.16 L519.75,1944.53 L520.17,1943.9 L520.6,1943.27 L521.02,1942.64 L521.45,1942.02 L521.67,1941.69 M538.45,1918.58 L538.74,1918.2 L539.2,1917.61 L539.66,1917.01 L540.13,1916.42 L540.59,1915.83 L541.06,1915.24 L541.52,1914.65 L541.99,1914.06 L542.46,1913.47 L542.93,1912.89 L543.39,1912.3 L543.87,1911.72 L544.34,1911.13 L544.81,1910.55 L545.28,1909.96 L545.76,1909.38 L546.23,1908.8 L546.71,1908.22 L547.18,1907.64 L547.66,1907.07 L548.14,1906.49 L548.62,1905.92 L549.1,1905.34 L549.58,1904.77 L550.07,1904.2 L550.55,1903.62 L551.03,1903.05 L551.36,1902.67 M567.18,1885.22 L567.58,1884.81 L568.1,1884.27 L568.62,1883.74 L569.14,1883.21 L569.66,1882.68 L570.18,1882.15 L570.71,1881.62 L571.23,1881.09 L571.76,1880.57 L572.28,1880.04 L572.81,1879.52 L573.34,1878.99 L573.87,1878.47 L574.4,1877.95 L574.93,1877.43 L575.47,1876.91 L576,1876.4 L576.54,1875.89 L577.07,1875.37 L577.61,1874.86 L578.15,1874.35 L578.69,1873.84 L579.23,1873.33 L579.77,1872.82 L580.31,1872.31 L580.86,1871.81 L581.4,1871.3 L581.84,1870.9 M614.81,1843.94 L615.29,1843.59 L615.89,1843.16 L616.49,1842.72 L617.09,1842.29 L617.7,1841.86 L618.3,1841.43 L618.91,1840.99 L619.52,1840.57 L620.13,1840.14 L620.73,1839.71 L621.34,1839.28 L621.95,1838.86 L622.57,1838.44 L623.18,1838.01 L623.79,1837.59 L624.4,1837.17 L625.02,1836.75 L625.63,1836.33 L626.25,1835.92 L626.87,1835.5 L627.48,1835.09 L628.1,1834.67 L628.72,1834.26 L629.34,1833.85 L629.96,1833.44 L630.58,1833.03 L631.21,1832.62 L631.69,1832.3 M662.17,1814.08 L662.61,1813.84 L663.27,1813.49 L663.93,1813.13 L664.58,1812.77 L665.24,1812.42 L665.91,1812.06 L666.57,1811.71 L667.23,1811.36 L667.89,1811.01 L668.55,1810.66 L669.22,1810.31 L669.88,1809.96 L670.55,1809.61 L671.21,1809.26 L671.88,1808.92 L672.54,1808.57 L673.21,1808.23 L673.88,1807.89 L674.55,1807.54 L675.22,1807.2 L675.89,1806.86 L676.56,1806.52 L677.23,1806.19 L677.9,1805.85 L678.57,1805.51 L679.24,1805.18 L679.91,1804.84 L680.35,1804.62 M709.63,1791.19 L710.03,1791.02 L710.72,1790.72 L711.42,1790.43 L712.12,1790.14 L712.81,1789.85 L713.51,1789.55 L714.21,1789.27 L714.9,1788.98 L715.6,1788.69 L716.3,1788.4 L717,1788.11 L717.7,1787.83 L718.4,1787.54 L719.1,1787.26 L719.8,1786.97 L720.5,1786.69 L721.2,1786.41 L721.9,1786.13 L722.6,1785.85 L723.3,1785.57 L724.01,1785.29 L724.71,1785.01 L725.41,1784.74 L726.12,1784.46 L726.82,1784.18 L727.52,1783.91 L728.23,1783.64 L728.63,1783.48 M759.85,1772.27 L760.25,1772.13 L760.97,1771.89 L761.69,1771.65 L762.4,1771.42 L763.12,1771.18 L763.84,1770.95 L764.56,1770.71 L765.28,1770.48 L766,1770.24 L766.72,1770.01 L767.43,1769.78 L768.15,1769.55 L768.87,1769.32 L769.59,1769.09 L770.31,1768.86 L771.03,1768.63 L771.75,1768.4 L772.47,1768.18 L773.19,1767.95 L773.92,1767.73 L774.64,1767.5 L775.36,1767.28 L776.08,1767.05 L776.8,1766.83 L777.52,1766.61 L778.24,1766.39 L778.96,1766.17 L779.38,1766.04 M810.43,1757.16 L810.87,1757.05 L811.6,1756.85 L812.32,1756.66 L813.05,1756.46 L813.78,1756.27 L814.51,1756.08 L815.24,1755.88 L815.97,1755.69 L816.69,1755.5 L817.42,1755.31 L818.15,1755.12 L818.88,1754.93 L819.61,1754.73 L820.34,1754.55 L821.07,1754.36 L821.8,1754.17 L822.53,1753.98 L823.26,1753.79 L823.99,1753.6 L824.72,1753.42 L825.45,1753.23 L826.18,1753.04 L826.91,1752.86 L827.64,1752.67 L828.36,1752.49 L829.1,1752.3 L829.83,1752.12 L830.27,1752.01 M857.9,1745.29 L858.35,1745.18 L859.09,1745.01 L859.82,1744.84 L860.55,1744.66 L861.28,1744.49 L862.02,1744.32 L862.75,1744.15 L863.48,1743.98 L864.21,1743.81 L864.95,1743.64 L865.68,1743.47 L866.41,1743.3 L867.15,1743.13 L867.88,1742.96 L868.61,1742.79 L869.34,1742.62 L870.08,1742.45 L870.81,1742.28 L871.54,1742.11 L872.28,1741.94 L873.01,1741.77 L873.74,1741.6 L874.47,1741.43 L875.21,1741.26 L875.94,1741.1 L876.67,1740.93 L877.41,1740.76 L877.87,1740.65 M908.44,1733.7 L908.91,1733.59 L909.65,1733.42 L910.38,1733.26 L911.11,1733.09 L911.84,1732.92 L912.57,1732.76 L913.31,1732.59 L914.04,1732.42 L914.77,1732.26 L915.5,1732.09 L916.23,1731.92 L916.97,1731.75 L917.7,1731.59 L918.43,1731.42 L919.16,1731.25 L919.89,1731.08 L920.62,1730.92 L921.35,1730.75 L922.09,1730.58 L922.82,1730.41 L923.55,1730.24 L924.28,1730.07 L925.01,1729.91 L925.74,1729.74 L926.47,1729.57 L927.2,1729.4 L927.93,1729.23 L928.42,1729.12 M966.74,1719.89 L967.25,1719.76 L967.98,1719.57 L968.7,1719.39 L969.43,1719.21 L970.15,1719.02 L970.88,1718.84 L971.6,1718.65 L972.32,1718.46 L973.05,1718.28 L973.77,1718.09 L974.5,1717.9 L975.22,1717.72 L975.94,1717.53 L976.67,1717.34 L977.39,1717.15 L978.11,1716.96 L978.84,1716.77 L979.56,1716.58 L980.28,1716.39 L981,1716.2 L981.73,1716.01 L982.45,1715.82 L983.17,1715.63 L983.89,1715.43 L984.61,1715.24 L985.34,1715.05 L986.06,1714.85 L986.58,1714.71 M1015.02,1706.73 L1015.54,1706.58 L1016.26,1706.37 L1016.97,1706.16 L1017.69,1705.95 L1018.41,1705.74 L1019.12,1705.53 L1019.84,1705.31 L1020.56,1705.1 L1021.27,1704.89 L1021.99,1704.68 L1022.71,1704.47 L1023.42,1704.25 L1024.14,1704.04 L1024.85,1703.82 L1025.57,1703.61 L1026.29,1703.4 L1027,1703.18 L1027.72,1702.97 L1028.43,1702.75 L1029.15,1702.53 L1029.86,1702.32 L1030.58,1702.1 L1031.29,1701.88 L1032.01,1701.67 L1032.72,1701.45 L1033.44,1701.23 L1034.15,1701.01 L1034.66,1700.86 M1066.53,1690.77 L1067,1690.62 L1067.71,1690.39 L1068.42,1690.16 L1069.14,1689.92 L1069.85,1689.69 L1070.56,1689.45 L1071.28,1689.22 L1071.99,1688.99 L1072.7,1688.75 L1073.42,1688.51 L1074.13,1688.28 L1074.84,1688.04 L1075.56,1687.81 L1076.27,1687.57 L1076.98,1687.33 L1077.7,1687.1 L1078.41,1686.86 L1079.12,1686.62 L1079.83,1686.38 L1080.55,1686.15 L1081.26,1685.91 L1081.97,1685.67 L1082.69,1685.43 L1083.4,1685.19 L1084.11,1684.95 L1084.83,1684.71 L1085.54,1684.47 L1085.99,1684.32 M1117.3,1673.55 L1117.66,1673.42 L1118.38,1673.17 L1119.09,1672.91 L1119.81,1672.66 L1120.52,1672.41 L1121.24,1672.16 L1121.96,1671.91 L1122.67,1671.65 L1123.39,1671.4 L1124.1,1671.15 L1124.82,1670.9 L1125.53,1670.64 L1126.25,1670.39 L1126.96,1670.14 L1127.68,1669.88 L1128.39,1669.63 L1129.11,1669.37 L1129.83,1669.12 L1130.54,1668.86 L1131.26,1668.61 L1131.97,1668.35 L1132.69,1668.1 L1133.41,1667.84 L1134.12,1667.59 L1134.84,1667.33 L1135.56,1667.08 L1136.27,1666.82 L1136.62,1666.7 M1166.95,1655.71 L1167.19,1655.63 L1167.91,1655.37 L1168.63,1655.1 L1169.35,1654.84 L1170.07,1654.57 L1170.79,1654.31 L1171.52,1654.04 L1172.24,1653.78 L1172.96,1653.51 L1173.68,1653.25 L1174.41,1652.98 L1175.13,1652.72 L1175.85,1652.45 L1176.58,1652.19 L1177.3,1651.92 L1178.02,1651.66 L1178.75,1651.39 L1179.47,1651.12 L1180.19,1650.86 L1180.92,1650.59 L1181.64,1650.33 L1182.36,1650.06 L1183.09,1649.8 L1183.81,1649.54 L1184.54,1649.28 L1185.26,1649.02 L1185.99,1648.76 L1186.21,1648.68 M1215.42,1640.55 L1215.61,1640.51 L1216.32,1640.42 L1217.04,1640.32 L1217.76,1640.22 L1218.48,1640.12 L1219.19,1640.05 L1219.91,1639.98 L1220.62,1639.9 L1221.34,1639.83 L1222.05,1639.79 L1222.77,1639.74 L1223.48,1639.7 L1224.2,1639.65 L1224.91,1639.64 L1225.62,1639.62 L1226.33,1639.61 L1227.04,1639.59 L1227.76,1639.61 L1228.47,1639.63 L1229.18,1639.64 L1229.89,1639.66 L1230.59,1639.71 L1231.3,1639.76 L1232.01,1639.81 L1232.72,1639.86 L1233.42,1639.94 L1234.13,1640.03 L1234.84,1640.11 L1235.54,1640.2 L1235.84,1640.25 M1264.45,1654.19 L1264.82,1654.53 L1265.37,1655.03 L1265.91,1655.53 L1266.44,1656.06 L1266.97,1656.58 L1267.49,1657.11 L1268.02,1657.64 L1268.53,1658.19 L1269.05,1658.74 L1269.56,1659.28 L1270.08,1659.83 L1270.58,1660.4 L1271.08,1660.97 L1271.58,1661.54 L1272.08,1662.11 L1272.57,1662.7 L1273.05,1663.29 L1273.54,1663.88 L1274.03,1664.47 L1274.51,1665.07 L1274.98,1665.68 L1275.46,1666.28 L1275.94,1666.89 L1276.4,1667.5 L1276.87,1668.12 L1277.34,1668.74 L1277.8,1669.36 L1277.95,1669.57 M1298.2,1701 L1298.39,1701.31 L1298.77,1701.97 L1299.16,1702.62 L1299.55,1703.28 L1299.94,1703.93 L1300.33,1704.59 L1300.71,1705.25 L1301.1,1705.9 L1301.48,1706.56 L1301.86,1707.21 L1302.24,1707.87 L1302.63,1708.53 L1303.01,1709.18 L1303.38,1709.84 L1303.76,1710.49 L1304.14,1711.15 L1304.52,1711.8 L1304.89,1712.46 L1305.27,1713.12 L1305.64,1713.77 L1306.02,1714.43 L1306.39,1715.08 L1306.76,1715.74 L1307.14,1716.4 L1307.5,1717.05 L1307.87,1717.71 L1308.24,1718.36 L1308.46,1718.74 M1325.09,1749.39 L1325.36,1749.89 L1325.7,1750.55 L1326.05,1751.21 L1326.4,1751.87 L1326.75,1752.53 L1327.09,1753.18 L1327.44,1753.84 L1327.79,1754.5 L1328.14,1755.16 L1328.48,1755.82 L1328.83,1756.48 L1329.18,1757.14 L1329.52,1757.79 L1329.87,1758.45 L1330.22,1759.11 L1330.56,1759.77 L1330.91,1760.43 L1331.26,1761.09 L1331.6,1761.75 L1331.95,1762.41 L1332.29,1763.07 L1332.64,1763.73 L1332.99,1764.39 L1333.33,1765.05 L1333.68,1765.71 L1334.03,1766.37 L1334.37,1767.03 L1334.63,1767.53 M1350.03,1797.01 L1350.27,1797.47 L1350.62,1798.14 L1350.96,1798.8 L1351.31,1799.46 L1351.65,1800.13 L1352,1800.79 L1352.35,1801.45 L1352.69,1802.12 L1353.04,1802.78 L1353.38,1803.45 L1353.73,1804.11 L1354.07,1804.77 L1354.42,1805.44 L1354.76,1806.1 L1355.11,1806.77 L1355.45,1807.43 L1355.8,1808.09 L1356.15,1808.76 L1356.49,1809.42 L1356.84,1810.09 L1357.18,1810.75 L1357.53,1811.41 L1357.87,1812.08 L1358.22,1812.74 L1358.56,1813.41 L1358.91,1814.07 L1359.26,1814.74 L1359.49,1815.19 M1374.96,1844.9 L1375.18,1845.33 L1375.53,1846 L1375.88,1846.66 L1376.22,1847.33 L1376.57,1847.99 L1376.92,1848.66 L1377.27,1849.32 L1377.61,1849.99 L1377.96,1850.66 L1378.31,1851.32 L1378.66,1851.99 L1379,1852.65 L1379.35,1853.32 L1379.7,1853.98 L1380.05,1854.65 L1380.39,1855.31 L1380.74,1855.98 L1381.09,1856.65 L1381.44,1857.31 L1381.79,1857.98 L1382.13,1858.64 L1382.48,1859.31 L1382.83,1859.97 L1383.18,1860.64 L1383.53,1861.31 L1383.88,1861.97 L1384.22,1862.64 L1384.45,1863.07 M1400.02,1892.64 L1400.34,1893.24 L1400.69,1893.91 L1401.04,1894.57 L1401.39,1895.23 L1401.74,1895.9 L1402.1,1896.56 L1402.45,1897.23 L1402.8,1897.89 L1403.16,1898.56 L1403.51,1899.22 L1403.86,1899.89 L1404.22,1900.55 L1404.57,1901.21 L1404.92,1901.88 L1405.28,1902.54 L1405.63,1903.21 L1405.98,1903.87 L1406.34,1904.54 L1406.69,1905.2 L1407.04,1905.86 L1407.4,1906.53 L1407.75,1907.19 L1408.11,1907.86 L1408.46,1908.52 L1408.82,1909.18 L1409.17,1909.85 L1409.53,1910.51 L1409.88,1911.17 L1410.24,1911.84 L1410.59,1912.5 L1410.95,1913.17 L1411.3,1913.83 L1411.66,1914.49 L1412.01,1915.16 L1412.37,1915.82 L1412.72,1916.48 L1413.08,1917.15 L1413.44,1917.81 L1413.79,1918.47 L1414.15,1919.14 L1414.5,1919.8 L1414.86,1920.46 L1415.22,1921.12 L1415.58,1921.79 L1415.93,1922.45 L1416.29,1923.11 L1416.65,1923.77 L1417,1924.44 L1417.36,1925.1 L1417.72,1925.76 L1418.08,1926.43 L1418.43,1927.09 L1418.79,1927.75 L1419.15,1928.41 L1419.51,1929.07 L1419.87,1929.74 L1420.22,1930.4 L1420.58,1931.06 L1420.94,1931.72 L1421.26,1932.31 M1435.55,1958.39 L1435.77,1958.8 L1436.14,1959.45 L1436.5,1960.11 L1436.87,1960.77 L1437.23,1961.43 L1437.6,1962.09 L1437.96,1962.75 L1438.33,1963.4 L1438.69,1964.06 L1439.06,1964.72 L1439.43,1965.38 L1439.79,1966.04 L1440.16,1966.69 L1440.53,1967.35 L1440.89,1968.01 L1441.26,1968.66 L1441.63,1969.32 L1442,1969.98 L1442.36,1970.64 L1442.73,1971.29 L1443.1,1971.95 L1443.47,1972.61 L1443.83,1973.26 L1444.2,1973.92 L1444.57,1974.58 L1444.94,1975.23 L1445.31,1975.89 L1445.54,1976.29 M1455.48,1993.81 L1455.72,1994.22 L1456.09,1994.87 L1456.47,1995.52 L1456.84,1996.17 L1457.21,1996.83 L1457.59,1997.48 L1457.97,1998.13 L1458.34,1998.78 L1458.72,1999.44 L1459.09,2000.09 L1459.47,2000.74 L1459.84,2001.39 L1460.22,2002.04 L1460.6,2002.69 L1460.97,2003.34 L1461.35,2004 L1461.73,2004.65 L1462.11,2005.3 L1462.48,2005.95 L1462.86,2006.6 L1463.24,2007.25 L1463.62,2007.9 L1464,2008.55 L1464.37,2009.2 L1464.75,2009.85 L1465.13,2010.5 L1465.51,2011.15 L1465.75,2011.56 M1481.77,2038.55 L1482.02,2038.96 L1482.41,2039.61 L1482.8,2040.25 L1483.18,2040.89 L1483.57,2041.54 L1483.96,2042.18 L1484.35,2042.82 L1484.74,2043.46 L1485.13,2044.11 L1485.52,2044.75 L1485.92,2045.39 L1486.31,2046.03 L1486.7,2046.68 L1487.09,2047.32 L1487.48,2047.96 L1487.87,2048.6 L1488.26,2049.24 L1488.66,2049.88 L1489.05,2050.52 L1489.44,2051.17 L1489.84,2051.81 L1490.23,2052.45 L1490.62,2053.09 L1491.02,2053.73 L1491.41,2054.37 L1491.8,2055.01 L1492.2,2055.65 L1492.45,2056.05 M1505.9,2077.52 L1506.16,2077.93 L1506.56,2078.56 L1506.97,2079.2 L1507.37,2079.83 L1507.78,2080.46 L1508.18,2081.1 L1508.59,2081.73 L1508.99,2082.36 L1509.4,2082.99 L1509.8,2083.63 L1510.21,2084.26 L1510.61,2084.89 L1511.02,2085.52 L1511.43,2086.15 L1511.83,2086.78 L1512.24,2087.41 L1512.65,2088.05 L1513.06,2088.68 L1513.46,2089.31 L1513.87,2089.94 L1514.28,2090.57 L1514.69,2091.2 L1515.1,2091.83 L1515.51,2092.46 L1515.92,2093.08 L1516.33,2093.71 L1516.74,2094.34 L1517,2094.75 M1531.41,2116.44 L1531.68,2116.85 L1532.1,2117.47 L1532.52,2118.1 L1532.95,2118.72 L1533.37,2119.34 L1533.79,2119.96 L1534.21,2120.58 L1534.63,2121.2 L1535.06,2121.82 L1535.48,2122.44 L1535.9,2123.06 L1536.32,2123.68 L1536.75,2124.3 L1537.17,2124.92 L1537.6,2125.54 L1538.02,2126.15 L1538.45,2126.77 L1538.87,2127.39 L1539.3,2128.01 L1539.72,2128.63 L1540.15,2129.24 L1540.58,2129.86 L1541,2130.48 L1541.43,2131.1 L1541.86,2131.71 L1542.28,2132.33 L1542.71,2132.94 L1543,2133.35 M1558.47,2155.18 L1558.76,2155.58 L1559.2,2156.19 L1559.64,2156.8 L1560.08,2157.41 L1560.52,2158.01 L1560.96,2158.62 L1561.41,2159.23 L1561.85,2159.83 L1562.29,2160.44 L1562.73,2161.04 L1563.18,2161.65 L1563.62,2162.25 L1564.06,2162.86 L1564.5,2163.46 L1564.95,2164.07 L1565.39,2164.67 L1565.84,2165.27 L1566.28,2165.88 L1566.73,2166.48 L1567.17,2167.08 L1567.62,2167.69 L1568.07,2168.29 L1568.51,2168.89 L1568.96,2169.49 L1569.41,2170.1 L1569.86,2170.7 L1570.3,2171.3 L1570.6,2171.7 M1588.67,2195.34 L1588.97,2195.74 L1589.43,2196.33 L1589.9,2196.92 L1590.36,2197.51 L1590.83,2198.1 L1591.29,2198.68 L1591.75,2199.27 L1592.22,2199.86 L1592.68,2200.45 L1593.15,2201.04 L1593.61,2201.63 L1594.08,2202.22 L1594.55,2202.8 L1595.02,2203.39 L1595.48,2203.98 L1595.95,2204.56 L1596.42,2205.15 L1596.89,2205.74 L1597.36,2206.32 L1597.83,2206.91 L1598.29,2207.49 L1598.76,2208.08 L1599.23,2208.66 L1599.71,2209.25 L1600.18,2209.83 L1600.65,2210.41 L1601.12,2211 L1601.43,2211.38 M1619.99,2233.74 L1620.3,2234.11 L1620.79,2234.68 L1621.28,2235.25 L1621.77,2235.82 L1622.26,2236.39 L1622.75,2236.96 L1623.24,2237.53 L1623.73,2238.1 L1624.22,2238.67 L1624.71,2239.24 L1625.2,2239.81 L1625.69,2240.38 L1626.18,2240.95 L1626.67,2241.51 L1627.17,2242.08 L1627.66,2242.65 L1628.15,2243.22 L1628.65,2243.78 L1629.14,2244.35 L1629.64,2244.92 L1630.13,2245.48 L1630.63,2246.05 L1631.12,2246.61 L1631.62,2247.18 L1632.11,2247.74 L1632.61,2248.31 L1633.11,2248.87 L1633.42,2249.23 M1654.05,2271.92 L1654.37,2272.25 L1654.88,2272.8 L1655.4,2273.35 L1655.91,2273.9 L1656.43,2274.45 L1656.95,2275 L1657.46,2275.54 L1657.98,2276.09 L1658.5,2276.64 L1659.02,2277.18 L1659.53,2277.73 L1660.05,2278.28 L1660.57,2278.82 L1661.09,2279.37 L1661.61,2279.91 L1662.13,2280.45 L1662.65,2281 L1663.17,2281.54 L1663.7,2282.08 L1664.22,2282.63 L1664.74,2283.17 L1665.26,2283.71 L1665.79,2284.25 L1666.31,2284.79 L1666.83,2285.33 L1667.36,2285.87 L1667.88,2286.41 L1668.21,2286.74 M1692.13,2310.49 L1692.47,2310.81 L1693.01,2311.33 L1693.56,2311.85 L1694.1,2312.37 L1694.65,2312.89 L1695.19,2313.41 L1695.74,2313.93 L1696.29,2314.44 L1696.83,2314.96 L1697.38,2315.48 L1697.93,2315.99 L1698.48,2316.51 L1699.02,2317.03 L1699.57,2317.54 L1700.12,2318.06 L1700.67,2318.57 L1701.22,2319.09 L1701.77,2319.6 L1702.33,2320.11 L1702.88,2320.62 L1703.43,2321.14 L1703.98,2321.65 L1704.53,2322.16 L1705.09,2322.67 L1705.64,2323.18 L1706.19,2323.69 L1706.75,2324.2 L1707.09,2324.51 M1734.05,2348.26 L1734.41,2348.56 L1734.99,2349.05 L1735.56,2349.53 L1736.14,2350.02 L1736.71,2350.5 L1737.29,2350.98 L1737.87,2351.46 L1738.45,2351.95 L1739.02,2352.43 L1739.6,2352.91 L1740.18,2353.39 L1740.76,2353.87 L1741.34,2354.35 L1741.92,2354.83 L1742.5,2355.3 L1743.08,2355.78 L1743.66,2356.26 L1744.24,2356.74 L1744.82,2357.21 L1745.41,2357.69 L1745.99,2358.16 L1746.57,2358.64 L1747.16,2359.11 L1747.74,2359.58 L1748.32,2360.06 L1748.91,2360.53 L1749.5,2361 L1749.87,2361.3 M1776.48,2381.81 L1776.87,2382.1 L1777.47,2382.54 L1778.08,2382.99 L1778.69,2383.43 L1779.29,2383.88 L1779.9,2384.32 L1780.5,2384.76 L1781.11,2385.2 L1781.72,2385.64 L1782.33,2386.09 L1782.94,2386.52 L1783.55,2386.96 L1784.16,2387.4 L1784.76,2387.84 L1785.38,2388.28 L1785.99,2388.71 L1786.6,2389.15 L1787.21,2389.59 L1787.82,2390.02 L1788.43,2390.46 L1789.05,2390.89 L1789.66,2391.32 L1790.27,2391.76 L1790.89,2392.19 L1791.5,2392.62 L1792.12,2393.05 L1792.73,2393.48 L1793.13,2393.76 M1820.42,2411.97 L1820.84,2412.23 L1821.47,2412.64 L1822.1,2413.04 L1822.74,2413.44 L1823.37,2413.84 L1824.01,2414.24 L1824.64,2414.64 L1825.28,2415.04 L1825.91,2415.44 L1826.55,2415.84 L1827.19,2416.24 L1827.83,2416.63 L1828.46,2417.03 L1829.1,2417.43 L1829.74,2417.82 L1830.38,2418.22 L1831.02,2418.61 L1831.66,2419 L1832.3,2419.4 L1832.94,2419.79 L1833.58,2420.18 L1834.22,2420.57 L1834.86,2420.96 L1835.5,2421.35 L1836.14,2421.74 L1836.78,2422.13 L1837.43,2422.52 L1837.85,2422.77 M1868.26,2440.24 L1868.68,2440.47 L1869.34,2440.83 L1870,2441.19 L1870.66,2441.55 L1871.32,2441.91 L1871.98,2442.26 L1872.64,2442.62 L1873.3,2442.98 L1873.97,2443.33 L1874.63,2443.69 L1875.29,2444.04 L1875.95,2444.4 L1876.62,2444.75 L1877.28,2445.1 L1877.94,2445.45 L1878.61,2445.81 L1879.27,2446.16 L1879.93,2446.51 L1880.6,2446.86 L1881.26,2447.21 L1881.93,2447.56 L1882.6,2447.9 L1883.26,2448.25 L1883.93,2448.6 L1884.59,2448.95 L1885.26,2449.29 L1885.93,2449.64 L1886.36,2449.86 M1918.54,2465.65 L1918.98,2465.85 L1919.66,2466.17 L1920.34,2466.49 L1921.02,2466.8 L1921.71,2467.12 L1922.39,2467.43 L1923.07,2467.75 L1923.76,2468.06 L1924.44,2468.37 L1925.12,2468.68 L1925.81,2469 L1926.49,2469.31 L1927.18,2469.62 L1927.86,2469.93 L1928.54,2470.24 L1929.23,2470.54 L1929.92,2470.85 L1930.6,2471.16 L1931.29,2471.47 L1931.97,2471.77 L1932.66,2472.08 L1933.35,2472.39 L1934.03,2472.69 L1934.72,2472.99 L1935.41,2473.3 L1936.1,2473.6 L1936.78,2473.9 L1937.22,2474.1 M1971.74,2488.41 L1972.18,2488.59 L1972.88,2488.86 L1973.58,2489.14 L1974.28,2489.41 L1974.99,2489.68 L1975.69,2489.95 L1976.39,2490.22 L1977.09,2490.49 L1977.79,2490.76 L1978.49,2491.03 L1979.19,2491.3 L1979.9,2491.57 L1980.6,2491.83 L1981.3,2492.1 L1982,2492.37 L1982.71,2492.63 L1983.41,2492.9 L1984.11,2493.16 L1984.82,2493.43 L1985.52,2493.69 L1986.22,2493.95 L1986.93,2494.21 L1987.63,2494.48 L1988.34,2494.74 L1989.04,2495 L1989.74,2495.26 L1990.45,2495.52 L1990.9,2495.68 M2016.21,2504.58 L2016.67,2504.74 L2017.38,2504.97 L2018.1,2505.21 L2018.81,2505.45 L2019.52,2505.69 L2020.23,2505.92 L2020.95,2506.16 L2021.66,2506.4 L2022.37,2506.63 L2023.09,2506.87 L2023.8,2507.1 L2024.51,2507.33 L2025.23,2507.57 L2025.94,2507.8 L2026.66,2508.03 L2027.37,2508.26 L2028.09,2508.49 L2028.8,2508.72 L2029.52,2508.95 L2030.23,2509.18 L2030.95,2509.41 L2031.66,2509.64 L2032.38,2509.86 L2033.1,2510.09 L2033.81,2510.32 L2034.53,2510.54 L2035.25,2510.77 L2035.71,2510.91 M2061.41,2518.6 L2061.87,2518.74 L2062.6,2518.94 L2063.32,2519.15 L2064.04,2519.35 L2064.77,2519.55 L2065.49,2519.76 L2066.21,2519.96 L2066.94,2520.16 L2067.66,2520.36 L2068.38,2520.57 L2069.11,2520.77 L2069.83,2520.97 L2070.56,2521.17 L2071.28,2521.36 L2072,2521.56 L2072.73,2521.76 L2073.45,2521.96 L2074.18,2522.16 L2074.9,2522.35 L2075.63,2522.55 L2076.36,2522.74 L2077.08,2522.94 L2077.81,2523.13 L2078.53,2523.33 L2079.26,2523.52 L2079.99,2523.71 L2080.71,2523.91 L2081.18,2524.03 M2125.54,2534.73 L2126.01,2534.83 L2126.74,2534.99 L2127.47,2535.16 L2128.21,2535.31 L2128.94,2535.47 L2129.68,2535.63 L2130.41,2535.79 L2131.15,2535.95 L2131.88,2536.1 L2132.62,2536.26 L2133.35,2536.42 L2134.09,2536.57 L2134.83,2536.73 L2135.56,2536.88 L2136.3,2537.04 L2137.03,2537.19 L2137.77,2537.34 L2138.51,2537.49 L2139.24,2537.65 L2139.98,2537.8 L2140.71,2537.95 L2141.45,2538.1 L2142.19,2538.25 L2142.92,2538.4 L2143.66,2538.55 L2144.4,2538.7 L2145.14,2538.84 L2145.6,2538.94 M2170.53,2543.63 L2171,2543.72 L2171.74,2543.85 L2172.48,2543.98 L2173.22,2544.11 L2173.96,2544.24 L2174.7,2544.37 L2175.44,2544.49 L2176.18,2544.62 L2176.92,2544.75 L2177.67,2544.88 L2178.41,2545 L2179.15,2545.13 L2179.89,2545.25 L2180.63,2545.38 L2181.37,2545.5 L2182.11,2545.62 L2182.86,2545.75 L2183.6,2545.87 L2184.34,2545.99 L2185.08,2546.12 L2185.82,2546.24 L2186.57,2546.36 L2187.31,2546.48 L2188.05,2546.6 L2188.79,2546.72 L2189.54,2546.84 L2190.28,2546.96 L2190.75,2547.03 M2231.5,2552.79 L2231.97,2552.85 L2232.72,2552.94 L2233.47,2553.03 L2234.21,2553.13 L2234.96,2553.22 L2235.71,2553.31 L2236.45,2553.4 L2237.2,2553.49 L2237.95,2553.57 L2238.69,2553.66 L2239.44,2553.75 L2240.19,2553.84 L2240.93,2553.92 L2241.68,2554.01 L2242.43,2554.1 L2243.17,2554.18 L2243.92,2554.27 L2244.67,2554.35 L2245.41,2554.44 L2246.16,2554.52 L2246.91,2554.6 L2247.66,2554.69 L2248.4,2554.77 L2249.15,2554.85 L2249.9,2554.93 L2250.65,2555.01 L2251.39,2555.1 L2251.87,2555.15 M2283.08,2558.1 L2283.56,2558.14 L2284.31,2558.2 L2285.06,2558.26 L2285.81,2558.32 L2286.56,2558.38 L2287.31,2558.44 L2288.06,2558.5 L2288.8,2558.56 L2289.55,2558.62 L2290.3,2558.68 L2291.05,2558.73 L2291.8,2558.79 L2292.55,2558.85 L2293.3,2558.9 L2294.05,2558.96 L2294.8,2559.01 L2295.55,2559.07 L2296.29,2559.12 L2297.04,2559.18 L2297.79,2559.23 L2298.54,2559.28 L2299.29,2559.33 L2300.04,2559.39 L2300.79,2559.44 L2301.54,2559.49 L2302.29,2559.54 L2303.04,2559.59 L2303.52,2559.62" fill="none" stroke="#ff0000" stroke-width="5.9" stroke-linecap="round"/>
<g transform="scale(1.24 1)">
<path d="M241.77,2562 L241.94,2536.2 L246.85,2536.2 L246.85,2518.4 L250,2518.4 L250,2500.6 L253.15,2500.6 L253.15,2482.8 L257.82,2482.8 L257.82,2465 L263.06,2465 L263.06,2447.2 L266.21,2447.2 L266.21,2429.4 L269.35,2429.4 L269.35,2411.6 L274.03,2411.6 L274.03,2393.8 L278.79,2393.8 L278.79,2376 L281.37,2376 L281.37,2358.2 L286.05,2358.2 L286.05,2340.4 L290,2340.4 L290,2322.6 L294.92,2322.6 L294.92,2304.8 L300.56,2304.8 L300.56,2287 L304.03,2287 L304.03,2269.2 L307.1,2269.2 L307.1,2251.4 L311.45,2251.4 L311.45,2233.6 L315.08,2233.6 L315.08,2215.8 L319.52,2215.8 L319.52,2198 L323.95,2198 L323.95,2180.2 L327.42,2180.2 L327.42,2162.4 L330.81,2162.4 L330.81,2144.6 L335.24,2144.6 L335.24,2126.8 L342.26,2126.8 L342.26,2109 L346.85,2109 L346.85,2091.2 L351.45,2091.2 L351.45,2073.4 L358.23,2073.4 L358.23,2055.6 L362.82,2055.6 L362.82,2037.8 L370.81,2037.8 L370.81,2020 L376.53,2020 L376.53,2002.2 L386.85,2002.2 L386.85,1984.4 L392.58,1984.4 L392.58,1966.6 L402.82,1966.6 L402.82,1948.8 L412.02,1948.8 L412.02,1931 L418.87,1931 L418.87,1913.2 L435.97,1913.2 L435.97,1895.4 L452.02,1895.4 L452.02,1875.6 L472.58,1875.6 L472.58,1857.8 L517.14,1857.8 L517.14,1840 L519.15,1840 L519.15,1857.8 L526.61,1857.8 L526.61,1840 L550.6,1840 L550.6,1857.8 L552.62,1857.8 L552.62,1840 L558.67,1840 L558.67,1822.2 L560.69,1822.2 L560.69,1840 L565.93,1840 L565.93,1857.8 L567.94,1857.8 L567.94,1840 L573.39,1840 L573.39,1822.2 L599.6,1822.2 L599.6,1804.4 L602.22,1804.4 L602.22,1822.2 L604.23,1822.2 L604.23,1804.4 L611.49,1804.4 L611.49,1822.2 L613.51,1822.2 L613.51,1804.4 L635.69,1804.4 L635.69,1822.2 L637.7,1822.2 L637.7,1804.4 L638.71,1804.4 L638.71,1786.6 L660.48,1786.6 L660.48,1768.8 L686.29,1768.8 L686.29,1751 L701.21,1751 L701.21,1733.2 L728.23,1733.2 L728.23,1715.4 L759.48,1715.4 L759.48,1697.6 L761.49,1697.6 L761.49,1715.4 L765.52,1715.4 L765.52,1733.2 L767.54,1733.2 L767.54,1715.4 L776.41,1715.4 L776.41,1697.6 L778.43,1697.6 L778.43,1715.4 L781.45,1715.4 L781.45,1697.6 L792.54,1697.6 L792.54,1679.8 L794.56,1679.8 L794.56,1697.6 L804.64,1697.6 L804.64,1679.8 L806.65,1679.8 L806.65,1697.6 L831.25,1697.6 L831.25,1662 L833.27,1662 L833.27,1697.6 L839.31,1697.6 L839.31,1679.8 L841.33,1679.8 L841.33,1697.6 L850.2,1697.6 L850.2,1679.8 L852.22,1679.8 L852.22,1697.6 L854.03,1697.6 L854.03,1679.8 L887.9,1679.8 L887.9,1662 L905.04,1662 L905.04,1644.2 L907.06,1644.2 L907.06,1662 L939.92,1662 L939.92,1644.2 L974.6,1644.2 L974.6,1626.4 L993.35,1626.4 L993.35,1644.2 L995.36,1644.2 L995.36,1626.4 L1005.65,1626.4 L1005.65,1644.2 L1014.52,1644.2 L1014.52,1662 L1025,1662 L1025,1679.8 L1032.26,1679.8 L1032.26,1697.6 L1038.31,1697.6 L1038.31,1715.4 L1043.95,1715.4 L1043.95,1733.2 L1048.06,1733.2 L1048.06,1751 L1053.71,1751 L1053.71,1768.8 L1056.85,1768.8 L1056.85,1786.6 L1066.21,1786.6 L1066.21,1804.4 L1071.77,1804.4 L1071.77,1822.2 L1076.69,1822.2 L1076.69,1840 L1085.73,1840 L1085.73,1857.8 L1087.5,1857.8 L1087.5,1875.6 L1092.74,1875.6 L1092.74,1893.4 L1096.21,1893.4 L1096.21,1911.2 L1101.05,1911.2 L1101.05,1929 L1108.06,1929 L1108.06,1946.8 L1112.9,1946.8 L1112.9,1964.6 L1120.56,1964.6 L1120.56,1982.4 L1129.76,1982.4 L1129.76,2000.2 L1136.29,2000.2 L1136.29,2018 L1140.73,2018 L1140.73,2035.8 L1152.1,2035.8 L1152.1,2053.6 L1157.5,2053.6 L1157.5,2071.4 L1166.29,2071.4 L1166.29,2089.2 L1177.26,2089.2 L1177.26,2107 L1188.23,2107 L1188.23,2124.8 L1194.84,2124.8 L1194.84,2142.6 L1207.98,2142.6 L1207.98,2160.4 L1218.95,2160.4 L1218.95,2178.2 L1228.47,2178.2 L1228.47,2196 L1240.16,2196 L1240.16,2213.8 L1251.85,2213.8 L1251.85,2231.6 L1265.81,2231.6 L1265.81,2249.4 L1279.68,2249.4 L1279.68,2267.2 L1290.32,2267.2 L1290.32,2285 L1304.84,2285 L1304.84,2302.8 L1320.48,2302.8 L1320.48,2320.6 L1333.31,2320.6 L1333.31,2338.4 L1357.1,2338.4 L1357.1,2356.2 L1373.55,2356.2 L1373.55,2374 L1400,2374 L1400,2391.8 L1423.79,2391.8 L1423.79,2409.6 L1442.94,2409.6 L1442.94,2427.4 L1444.96,2427.4 L1444.96,2409.6 L1458.55,2409.6 L1458.55,2427.4 L1490.56,2427.4 L1490.56,2445.2 L1517.9,2445.2 L1517.9,2463 L1541.53,2463 L1541.53,2480.8 L1597.98,2480.8 L1597.98,2498.6 L1602.22,2498.6 L1602.22,2480.8 L1605.04,2480.8 L1605.04,2498.6 L1628.39,2498.6 L1628.39,2516.4 L1635.69,2516.4 L1635.69,2498.6 L1637.7,2498.6 L1637.7,2516.4 L1676.81,2516.4 L1676.81,2498.6 L1678.83,2498.6 L1678.83,2516.4 L1754.92,2516.4 L1754.92,2534.2 L1763.91,2534.2 L1763.91,2516.4 L1765.93,2516.4 L1765.93,2534.2 L1886.29,2534.2" fill="none" stroke="#0000ff" stroke-width="5.5" stroke-linejoin="miter" stroke-miterlimit="3"/>
<rect x="469.76" y="1855.05" width="43.15" height="23.3" fill="#0000ff"/>
<rect x="525.81" y="1837.25" width="13.31" height="23.3" fill="#0000ff"/>
<rect x="578.23" y="1819.45" width="12.1" height="23.3" fill="#0000ff"/>
<rect x="658.87" y="1766.05" width="17.74" height="23.3" fill="#0000ff"/>
<rect x="684.68" y="1748.25" width="12.1" height="23.3" fill="#0000ff"/>
<rect x="702.1" y="1730.45" width="15.08" height="23.3" fill="#0000ff"/>
<rect x="727.18" y="1712.65" width="28.15" height="23.3" fill="#0000ff"/>
<rect x="818.55" y="1677.05" width="10.97" height="23.3" fill="#0000ff"/>
<rect x="852.66" y="1659.25" width="35.24" height="23.3" fill="#0000ff"/>
<rect x="914.52" y="1641.45" width="25.4" height="23.3" fill="#0000ff"/>
<rect x="1002.42" y="1623.65" width="4.03" height="23.3" fill="#0000ff"/>
<rect x="1008.06" y="1641.45" width="8.06" height="23.3" fill="#0000ff"/>
<rect x="1029.03" y="1677.05" width="7.26" height="23.3" fill="#0000ff"/>
<rect x="1082.26" y="1837.25" width="6.45" height="23.3" fill="#0000ff"/>
<rect x="1133.87" y="1997.45" width="4.84" height="23.3" fill="#0000ff"/>
<rect x="1174.19" y="2086.45" width="5.65" height="23.3" fill="#0000ff"/>
<rect x="1330.65" y="2317.85" width="4.84" height="23.3" fill="#0000ff"/>
<rect x="1529.03" y="2460.25" width="12.5" height="23.3" fill="#0000ff"/>
<rect x="1580.81" y="2478.05" width="16.69" height="23.3" fill="#0000ff"/>
<rect x="1677.66" y="2513.65" width="16.53" height="23.3" fill="#0000ff"/>
<rect x="1695.65" y="2513.65" width="9.68" height="23.3" fill="#0000ff"/>
<rect x="1707.58" y="2513.65" width="10.89" height="23.3" fill="#0000ff"/>
<rect x="1720.65" y="2513.65" width="11.29" height="23.3" fill="#0000ff"/>
<rect x="1782.82" y="2531.45" width="10.4" height="23.3" fill="#0000ff"/>
<rect x="1794.68" y="2531.45" width="7.5" height="23.3" fill="#0000ff"/>
<rect x="1833.71" y="2531.45" width="19.35" height="23.3" fill="#0000ff"/>
<rect x="1859.11" y="2531.45" width="7.26" height="23.3" fill="#0000ff"/>
<rect x="1870" y="2531.45" width="14.27" height="23.3" fill="#0000ff"/>
<rect x="375.56" y="1997.45" width="2.66" height="23.3" fill="#0000ff"/>
<rect x="350.48" y="2068.65" width="2.74" height="23.3" fill="#0000ff"/>
</g></g><g transform="scale(1.4 1)">
<path d="M1163.79,1646.8 L1293.86,1646.8" fill="none" stroke="#ff0000" stroke-width="5.6" stroke-linecap="round" stroke-dasharray="21.5 31.5"/>
<path d="M1163.86,1716.2 L1291,1716.2" fill="none" stroke="#0000ff" stroke-width="5.8" stroke-linecap="round"/>
</g>
<text transform="translate(246.7 2575.3) scale(1.4 1)" font-family="'Liberation Sans', Arial, sans-serif" font-size="47.5" text-anchor="end">25</text>
<text transform="translate(246.7 2397.3) scale(1.4 1)" font-family="'Liberation Sans', Arial, sans-serif" font-size="47.5" text-anchor="end">26</text>
<text transform="translate(246.7 2219.3) scale(1.4 1)" font-family="'Liberation Sans', Arial, sans-serif" font-size="47.5" text-anchor="end">27</text>
<text transform="translate(246.7 2041.3) scale(1.4 1)" font-family="'Liberation Sans', Arial, sans-serif" font-size="47.5" text-anchor="end">28</text>
<text transform="translate(246.7 1863.3) scale(1.4 1)" font-family="'Liberation Sans', Arial, sans-serif" font-size="47.5" text-anchor="end">29</text>
<text transform="translate(246.7 1685.3) scale(1.4 1)" font-family="'Liberation Sans', Arial, sans-serif" font-size="47.5" text-anchor="end">30</text>
<text transform="translate(246.7 1507.3) scale(1.4 1)" font-family="'Liberation Sans', Arial, sans-serif" font-size="47.5" text-anchor="end">31</text>
<text transform="translate(297.3 2634.5) scale(1.39 1)" font-family="'Liberation Sans', Arial, sans-serif" font-size="47.3" text-anchor="middle">0</text>
<text transform="translate(637.58 2634.5) scale(1.39 1)" font-family="'Liberation Sans', Arial, sans-serif" font-size="47.3" text-anchor="middle">1000</text>
<text transform="translate(977.87 2634.5) scale(1.39 1)" font-family="'Liberation Sans', Arial, sans-serif" font-size="47.3" text-anchor="middle">2000</text>
<text transform="translate(1318.15 2634.5) scale(1.39 1)" font-family="'Liberation Sans', Arial, sans-serif" font-size="47.3" text-anchor="middle">3000</text>
<text transform="translate(1658.43 2634.5) scale(1.39 1)" font-family="'Liberation Sans', Arial, sans-serif" font-size="47.3" text-anchor="middle">4000</text>
<text transform="translate(1998.72 2634.5) scale(1.39 1)" font-family="'Liberation Sans', Arial, sans-serif" font-size="47.3" text-anchor="middle">5000</text>
<text transform="translate(2339 2634.5) scale(1.39 1)" font-family="'Liberation Sans', Arial, sans-serif" font-size="47.3" text-anchor="middle">6000</text>
<text transform="translate(1128.97 2722.7) scale(1.34 1)" font-family="'Liberation Sans', Arial, sans-serif" font-size="61" text-anchor="start">Time (sec)</text>
<text transform="translate(78.99 2092.24) rotate(-90) scale(1 1.42)" font-family="'Liberation Sans', Arial, sans-serif" font-size="56.71">Celsius</text>
<text transform="translate(1829.79 1666.6) scale(1.35 1)" font-family="'Liberation Sans', Arial, sans-serif" font-size="59.5" text-anchor="start">Simulation</text>
<text transform="translate(1829.4 1736.8) scale(1.34 1)" font-family="'Liberation Sans', Arial, sans-serif" font-size="59.5" text-anchor="start">Experiment</text>
<text transform="translate(1166.6 2829.63) scale(0.95 1)" font-family="'Liberation Serif', 'Times New Roman', serif" font-size="84.07" text-anchor="start">(</text>
<text transform="translate(1194.11 2831.5) scale(0.91 1)" font-family="'Liberation Serif', 'Times New Roman', serif" font-size="90.42" text-anchor="start" font-weight="bold">c</text>
<text transform="translate(1230.21 2829.85) scale(0.98 1)" font-family="'Liberation Serif', 'Times New Roman', serif" font-size="85" text-anchor="start">)</text>
</svg>
</body></html>
